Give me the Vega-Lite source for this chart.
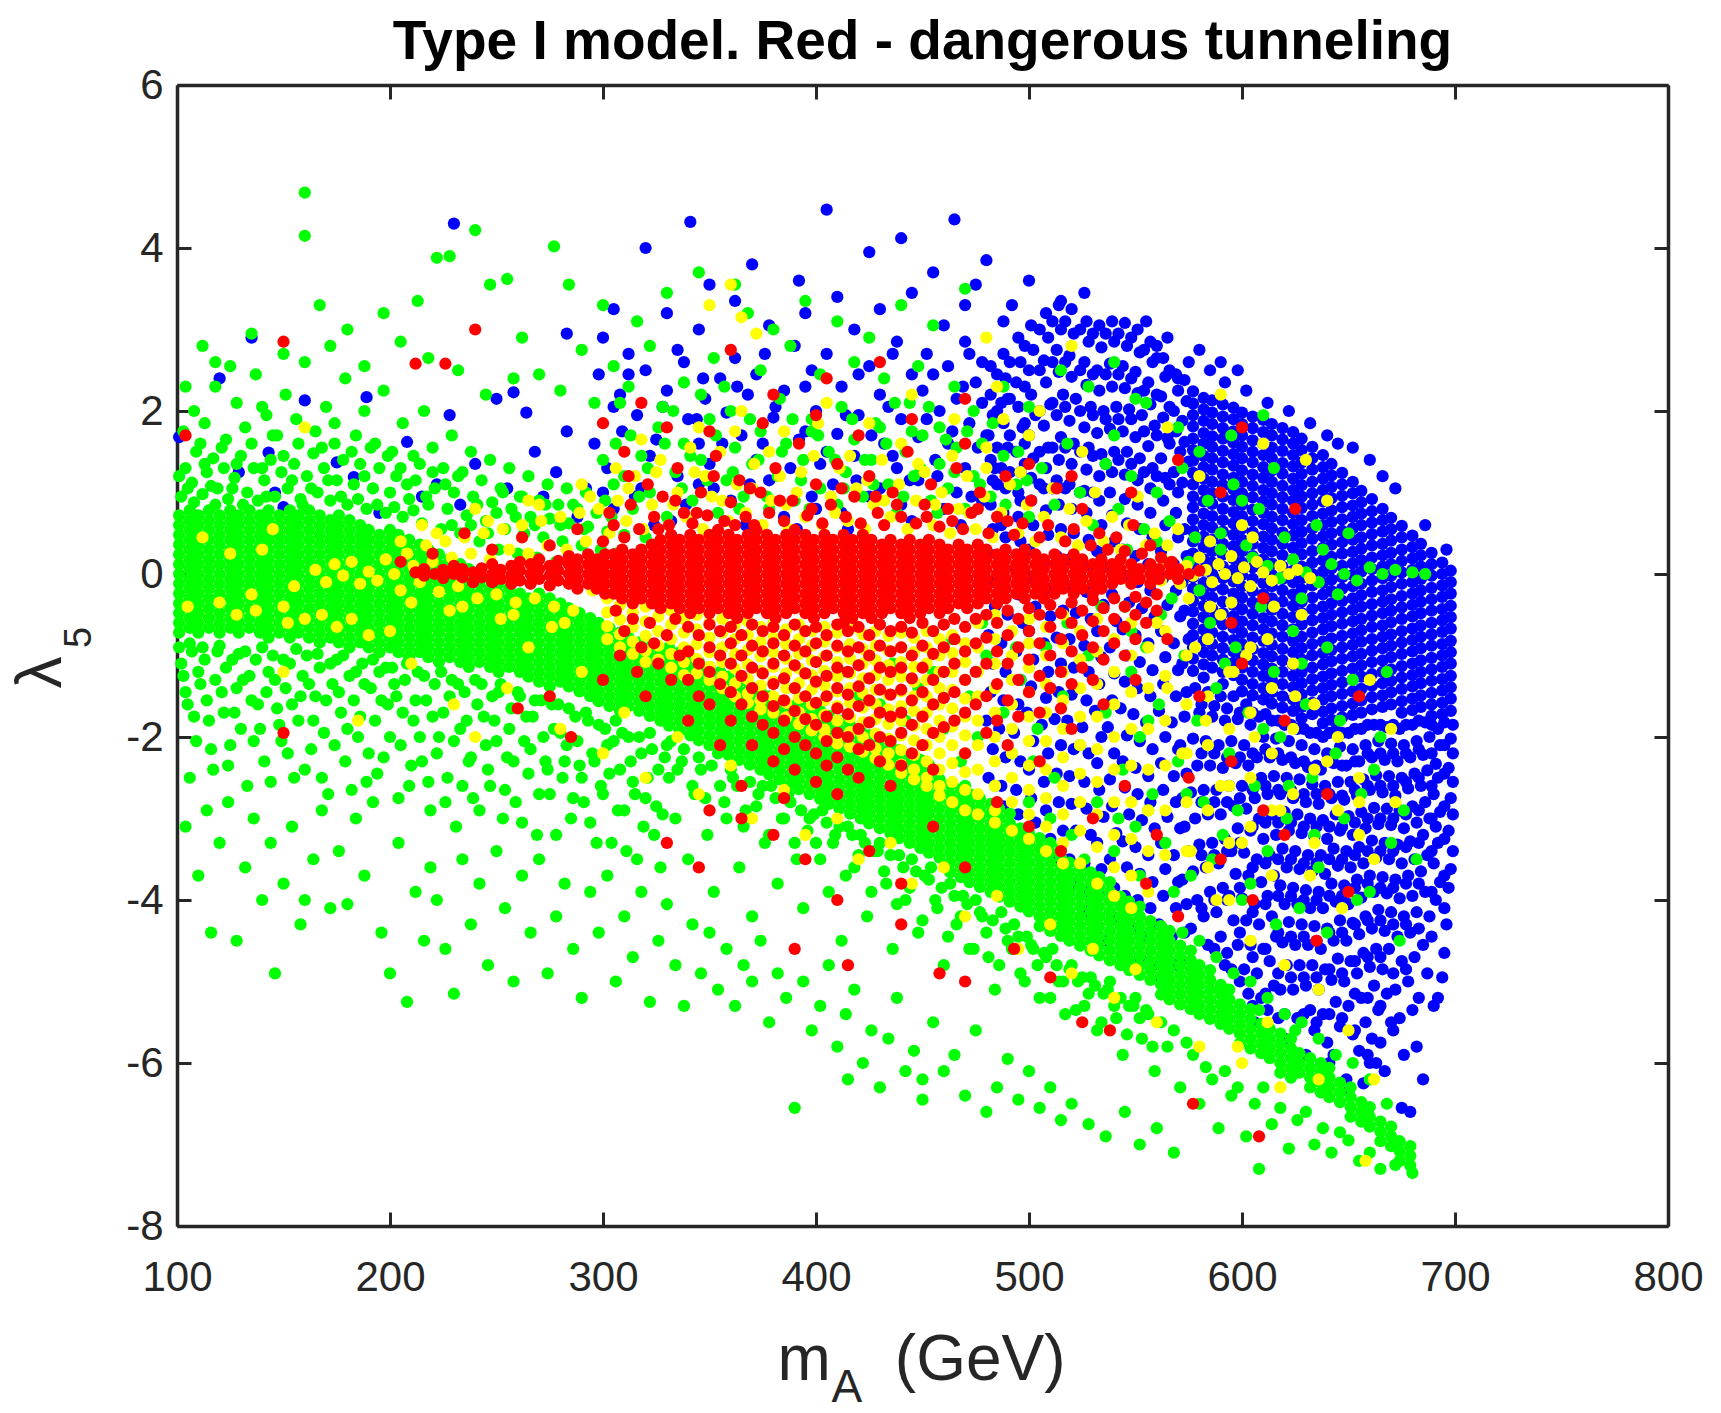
{
  "$schema": "https://vega.github.io/schema/vega-lite/v6.json",
  "width": 1491,
  "height": 1141,
  "autosize": {"type": "none"},
  "padding": {"left": 177, "top": 85, "right": 53, "bottom": 187},
  "background": "white",
  "config": {"view": {"stroke": null}, "font": "Liberation Sans"},
  "title": {
    "text": "Type I model. Red - dangerous tunneling",
    "anchor": "middle",
    "frame": "group",
    "offset": 20,
    "dy": 70,
    "baseline": "alphabetic",
    "font": "Liberation Sans",
    "fontSize": 55,
    "fontWeight": "bold",
    "color": "#000000"
  },
  "layer": [
    {
      "data": {
        "values": "x,y\n577,2.24\n577,2.09\n577,1.95\n577,1.81\n577,1.66\n577,1.52\n577,1.39\n577,1.24\n577,1.1\n577,.95\n577,.82\n577,.67\n577,.53\n577,.4\n577,.25\n577,.11\n577,-.04\n577,-.18\n577,-.33\n577,-.46\n577,-.61\n577,-.75\n577,-.9\n577,-1.04\n577,-1.19\n582,2.16\n582,2.02\n582,1.88\n582,1.73\n582,1.6\n582,1.45\n582,1.31\n582,1.17\n582,1.03\n582,.89\n582,.74\n582,.6\n582,.46\n582,.33\n582,.18\n582,.04\n582,-.11\n582,-.25\n582,-.39\n582,-.53\n582,-.68\n582,-.82\n582,-.96\n582,-1.11\n582,-1.27\n586,2.13\n586,1.98\n586,1.84\n586,1.69\n586,1.56\n586,1.42\n586,1.28\n586,1.13\n586,.99\n586,.86\n586,.71\n586,.57\n586,.42\n586,.28\n586,.14\n586,0\n586,-.15\n586,-.29\n586,-.43\n586,-.57\n586,-.72\n586,-.86\n586,-1\n586,-1.15\n591,2.08\n591,1.93\n591,1.79\n591,1.66\n591,1.51\n591,1.37\n591,1.22\n591,1.09\n591,.95\n591,.8\n591,.66\n591,.52\n591,.37\n591,.24\n591,.09\n591,-.05\n591,-.19\n591,-.34\n591,-.48\n591,-.62\n591,-.77\n591,-.91\n591,-1.05\n591,-1.2\n591,-1.35\n596,2.04\n596,1.9\n596,1.75\n596,1.61\n596,1.47\n596,1.33\n596,1.18\n596,1.04\n596,.91\n596,.76\n596,.62\n596,.48\n596,.34\n596,.19\n596,.05\n596,-.09\n596,-.24\n596,-.38\n596,-.52\n596,-.66\n596,-.81\n596,-.95\n596,-1.09\n596,-1.24\n600,1.98\n600,1.84\n600,1.7\n600,1.56\n600,1.42\n600,1.27\n600,1.13\n600,.99\n600,.85\n600,.71\n600,.56\n600,.42\n600,.28\n600,.14\n600,-.01\n600,-.15\n600,-.29\n600,-.43\n600,-.58\n600,-.72\n600,-.86\n600,-1.01\n600,-1.15\n600,-1.3\n600,-1.44\n605,1.93\n605,1.79\n605,1.64\n605,1.5\n605,1.37\n605,1.22\n605,1.08\n605,.94\n605,.79\n605,.65\n605,.51\n605,.37\n605,.22\n605,.08\n605,-.06\n605,-.21\n605,-.35\n605,-.49\n605,-.63\n605,-.78\n605,-.92\n605,-1.06\n605,-1.2\n605,-1.35\n605,-1.49\n610,1.89\n610,1.74\n610,1.6\n610,1.46\n610,1.31\n610,1.18\n610,1.03\n610,.89\n610,.75\n610,.61\n610,.46\n610,.32\n610,.18\n610,.04\n610,-.11\n610,-.25\n610,-.39\n610,-.54\n610,-.68\n610,-.82\n610,-.97\n610,-1.11\n610,-1.25\n610,-1.4\n610,-1.54\n614,1.84\n614,1.7\n614,1.55\n614,1.42\n614,1.27\n614,1.13\n614,.99\n614,.85\n614,.7\n614,.56\n614,.42\n614,.28\n614,.13\n614,-.01\n614,-.15\n614,-.3\n614,-.44\n614,-.58\n614,-.73\n614,-.87\n614,-1.01\n614,-1.16\n614,-1.3\n614,-1.45\n614,-1.59\n619,1.79\n619,1.65\n619,1.51\n619,1.36\n619,1.23\n619,1.08\n619,.94\n619,.8\n619,.66\n619,.51\n619,.37\n619,.23\n619,.09\n619,-.06\n619,-.2\n619,-.34\n619,-.49\n619,-.63\n619,-.77\n619,-.92\n619,-1.06\n619,-1.2\n619,-1.35\n619,-1.5\n619,-1.64\n624,1.74\n624,1.6\n624,1.46\n624,1.32\n624,1.17\n624,1.03\n624,.9\n624,.75\n624,.61\n624,.47\n624,.32\n624,.18\n624,.04\n624,-.1\n624,-.25\n624,-.39\n624,-.53\n624,-.68\n624,-.82\n624,-.96\n624,-1.11\n624,-1.25\n624,-1.39\n624,-1.54\n624,-1.68\n628,1.66\n628,1.52\n628,1.37\n628,1.23\n628,1.09\n628,.95\n628,.81\n628,.66\n628,.52\n628,.38\n628,.24\n628,.09\n628,-.05\n628,-.19\n628,-.34\n628,-.48\n628,-.62\n628,-.77\n628,-.91\n628,-1.05\n628,-1.2\n628,-1.34\n628,-1.48\n628,-1.63\n628,-1.77\n633,1.56\n633,1.42\n633,1.28\n633,1.13\n633,.99\n633,.85\n633,.71\n633,.56\n633,.43\n633,.28\n633,.14\n633,0\n633,-.14\n633,-.29\n633,-.43\n633,-.57\n633,-.72\n633,-.86\n633,-1\n633,-1.15\n633,-1.29\n633,-1.43\n633,-1.58\n633,-1.72\n638,1.46\n638,1.31\n638,1.17\n638,1.03\n638,.89\n638,.74\n638,.6\n638,.46\n638,.32\n638,.17\n638,.03\n638,-.11\n638,-.25\n638,-.4\n638,-.54\n638,-.68\n638,-.83\n638,-.97\n638,-1.11\n638,-1.26\n638,-1.4\n638,-1.54\n638,-1.69\n638,-1.83\n642,1.35\n642,1.21\n642,1.07\n642,.93\n642,.78\n642,.64\n642,.5\n642,.36\n642,.21\n642,.07\n642,-.07\n642,-.21\n642,-.36\n642,-.5\n642,-.64\n642,-.79\n642,-.93\n642,-1.07\n642,-1.22\n642,-1.36\n642,-1.5\n642,-1.65\n642,-1.79\n647,1.24\n647,1.1\n647,.96\n647,.82\n647,.67\n647,.53\n647,.39\n647,.25\n647,.1\n647,-.04\n647,-.18\n647,-.33\n647,-.47\n647,-.61\n647,-.76\n647,-.9\n647,-1.04\n647,-1.19\n647,-1.33\n647,-1.47\n647,-1.62\n647,-1.76\n652,1.13\n652,.99\n652,.84\n652,.7\n652,.56\n652,.42\n652,.27\n652,.13\n652,-.01\n652,-.15\n652,-.3\n652,-.44\n652,-.58\n652,-.73\n652,-.87\n652,-1.01\n652,-1.16\n652,-1.3\n652,-1.44\n652,-1.59\n652,-1.73\n656,1.02\n656,.88\n656,.74\n656,.6\n656,.45\n656,.31\n656,.17\n656,.03\n656,-.12\n656,-.26\n656,-.4\n656,-.55\n656,-.69\n656,-.83\n656,-.98\n656,-1.12\n656,-1.26\n656,-1.41\n656,-1.55\n656,-1.7\n661,.92\n661,.77\n661,.63\n661,.49\n661,.35\n661,.2\n661,.06\n661,-.08\n661,-.22\n661,-.37\n661,-.51\n661,-.65\n661,-.8\n661,-.94\n661,-1.08\n661,-1.23\n661,-1.37\n661,-1.51\n661,-1.66\n666,.8\n666,.66\n666,.52\n666,.37\n666,.23\n666,.09\n666,-.05\n666,-.2\n666,-.34\n666,-.48\n666,-.63\n666,-.77\n666,-.91\n666,-1.06\n666,-1.2\n666,-1.34\n666,-1.49\n666,-1.63\n670,.69\n670,.55\n670,.41\n670,.26\n670,.12\n670,-.02\n670,-.16\n670,-.31\n670,-.45\n670,-.59\n670,-.74\n670,-.88\n670,-1.02\n670,-1.17\n670,-1.31\n670,-1.45\n670,-1.6\n675,.59\n675,.45\n675,.3\n675,.16\n675,.02\n675,-.12\n675,-.27\n675,-.41\n675,-.55\n675,-.7\n675,-.84\n675,-.98\n675,-1.13\n675,-1.27\n675,-1.41\n675,-1.56\n675,-1.7\n680,.47\n680,.33\n680,.19\n680,.05\n680,-.1\n680,-.24\n680,-.38\n680,-.52\n680,-.67\n680,-.81\n680,-.95\n680,-1.1\n680,-1.24\n680,-1.38\n680,-1.53\n680,-1.67\n684,.37\n684,.23\n684,.09\n684,-.06\n684,-.2\n684,-.34\n684,-.48\n684,-.63\n684,-.77\n684,-.91\n684,-1.06\n684,-1.2\n684,-1.34\n684,-1.49\n684,-1.63\n689,.26\n689,.12\n689,-.02\n689,-.17\n689,-.31\n689,-.45\n689,-.6\n689,-.74\n689,-.88\n689,-1.03\n689,-1.17\n689,-1.31\n689,-1.46\n689,-1.6\n689,-1.74\n694,.14\n694,0\n694,-.14\n694,-.28\n694,-.43\n694,-.57\n694,-.71\n694,-.86\n694,-1\n694,-1.14\n694,-1.29\n694,-1.43\n694,-1.58\n694,-1.72\n698,.04\n698,-.1\n698,-.24\n698,-.39\n698,-.53\n698,-.67\n698,-.82\n698,-.96\n698,-1.1\n698,-1.25\n698,-1.39\n698,-1.53\n698,-1.68\n699,-1.85\n698,-2.02\n699,-2.2\n697,-2.38\n699,-2.55\n698,-2.75\n699,-2.95\n697,-3.15\n699,-3.4\n698,-3.62\n697,-3.85\n696,-4.3\n695,-4.65\n694,-4.95\n692,-5.2\n692,-1.9\n693,-2.1\n691,-2.33\n692,-2.5\n690,-2.7\n693,-2.92\n691,-3.1\n692,-3.3\n690,-3.55\n693,-3.78\n691,-4\n686,-1.82\n688,-2\n685,-2.22\n687,-2.41\n684,-2.6\n686,-2.8\n688,-3\n685,-3.2\n687,-3.45\n684,-3.65\n686,-3.9\n688,-4.2\n685,-4.55\n687,-4.9\n680,-1.85\n682,-2.05\n679,-2.25\n681,-2.45\n678,-2.63\n680,-2.85\n682,-3.05\n679,-3.28\n681,-3.5\n678,-3.7\n680,-3.95\n682,-4.15\n679,-4.4\n681,-4.7\n678,-5\n680,-5.35\n682,-5.8\n679,-6.6\n674,-1.9\n676,-2.1\n673,-2.3\n675,-2.5\n672,-2.72\n674,-2.9\n676,-3.12\n673,-3.32\n675,-3.55\n672,-3.75\n674,-3.98\n676,-4.2\n673,-4.45\n675,-4.75\n672,-5.1\n674,-5.45\n676,-5.9\n668,-1.88\n670,-2.08\n667,-2.28\n669,-2.48\n666,-2.68\n668,-2.88\n670,-3.08\n667,-3.3\n669,-3.5\n666,-3.72\n668,-3.92\n670,-4.15\n667,-4.38\n669,-4.6\n666,-4.85\n668,-5.15\n670,-5.5\n667,-6.1\n662,-1.85\n664,-2.05\n661,-2.25\n663,-2.47\n660,-2.65\n662,-2.87\n664,-3.07\n661,-3.27\n663,-3.48\n660,-3.7\n662,-3.9\n664,-4.12\n661,-4.35\n663,-4.6\n660,-4.82\n662,-5.05\n664,-5.35\n661,-5.7\n663,-6\n656,-1.9\n658,-2.1\n655,-2.3\n657,-2.52\n654,-2.72\n656,-2.92\n658,-3.12\n655,-3.35\n657,-3.55\n654,-3.75\n656,-3.97\n658,-4.2\n655,-4.42\n657,-4.65\n654,-4.9\n656,-5.2\n658,-5.5\n655,-5.85\n657,-6.25\n650,-1.95\n652,-2.15\n649,-2.35\n651,-2.55\n648,-2.77\n650,-2.97\n652,-3.2\n649,-3.4\n651,-3.6\n648,-3.82\n650,-4.05\n652,-4.28\n649,-4.5\n651,-4.75\n648,-5\n650,-5.3\n652,-5.65\n649,-6.2\n644,-1.92\n646,-2.12\n643,-2.32\n645,-2.55\n642,-2.75\n644,-2.95\n646,-3.15\n643,-3.37\n645,-3.58\n642,-3.8\n644,-4.02\n646,-4.25\n643,-4.5\n645,-4.72\n642,-4.98\n644,-5.25\n646,-5.55\n643,-5.9\n638,-2\n640,-2.2\n637,-2.4\n639,-2.6\n636,-2.82\n638,-3.02\n640,-3.25\n637,-3.45\n639,-3.68\n636,-3.9\n638,-4.1\n640,-4.35\n637,-4.6\n639,-4.85\n636,-5.1\n638,-5.4\n640,-5.75\n632,-1.95\n634,-2.15\n631,-2.37\n633,-2.58\n630,-2.8\n632,-3\n634,-3.22\n631,-3.45\n633,-3.65\n630,-3.88\n632,-4.1\n634,-4.32\n631,-4.55\n633,-4.8\n630,-5.05\n632,-5.35\n634,-5.6\n626,-1.9\n628,-2.1\n625,-2.32\n627,-2.52\n624,-2.75\n626,-2.95\n628,-3.18\n625,-3.4\n627,-3.62\n624,-3.85\n626,-4.05\n628,-4.3\n625,-4.55\n627,-4.8\n624,-5.1\n626,-5.45\n620,-1.85\n622,-2.05\n619,-2.28\n621,-2.5\n618,-2.7\n620,-2.92\n622,-3.15\n619,-3.37\n621,-3.6\n618,-3.82\n620,-4.05\n622,-4.27\n619,-4.52\n621,-4.8\n618,-5.1\n620,-5.4\n614,-1.8\n616,-2.02\n613,-2.25\n615,-2.48\n612,-2.7\n614,-2.95\n616,-3.2\n613,-3.45\n615,-3.7\n612,-3.95\n614,-4.2\n616,-4.45\n613,-4.75\n615,-5.05\n612,-5.35\n608,-1.75\n610,-2\n607,-2.25\n609,-2.5\n606,-2.75\n608,-3\n610,-3.25\n607,-3.5\n609,-3.78\n606,-4.05\n608,-4.3\n610,-4.6\n607,-4.9\n609,-5.2\n606,-5.5\n602,-1.6\n604,-1.85\n601,-2.1\n603,-2.35\n600,-2.6\n602,-2.88\n604,-3.15\n601,-3.42\n603,-3.7\n600,-3.98\n602,-4.25\n604,-4.55\n601,-4.85\n603,-5.15\n596,-1.5\n598,-1.78\n595,-2.05\n597,-2.32\n594,-2.6\n596,-2.85\n598,-3.12\n595,-3.4\n597,-3.68\n594,-3.95\n596,-4.25\n598,-4.55\n595,-4.85\n590,-1.5\n592,-1.8\n589,-2.1\n591,-2.38\n588,-2.65\n590,-2.95\n592,-3.25\n589,-3.55\n591,-3.85\n588,-4.15\n590,-4.45\n592,-4.8\n584,-1.45\n586,-1.75\n583,-2.05\n585,-2.35\n582,-2.65\n584,-2.95\n586,-3.3\n583,-3.6\n585,-3.9\n582,-4.2\n584,-4.55\n578,-1.4\n580,-1.7\n577,-2.02\n579,-2.35\n576,-2.68\n578,-3\n580,-3.32\n577,-3.65\n579,-4\n576,-4.35\n581,-1.6\n581,-2.2\n581,-2.8\n581,-3.45\n581,-4.1\n587,-1.62\n587,-2.2\n587,-2.8\n587,-3.45\n587,-4\n587,-4.6\n593,-1.65\n593,-2.25\n593,-2.8\n593,-3.4\n593,-4\n593,-4.65\n599,-1.7\n599,-2.25\n599,-2.75\n599,-3.3\n599,-3.85\n599,-4.4\n599,-5\n605,-1.7\n605,-2.2\n605,-2.65\n605,-3.1\n605,-3.6\n605,-4.15\n605,-4.7\n605,-5.3\n611,-1.72\n611,-2.15\n611,-2.6\n611,-3.05\n611,-3.55\n611,-4.05\n611,-4.6\n611,-5.15\n617,-1.8\n617,-2.2\n617,-2.65\n617,-3.05\n617,-3.5\n617,-3.95\n617,-4.4\n617,-4.9\n617,-5.45\n623,-1.85\n623,-2.25\n623,-2.65\n623,-3.05\n623,-3.5\n623,-3.95\n623,-4.45\n623,-4.95\n629,-1.9\n629,-2.3\n629,-2.7\n629,-3.1\n629,-3.55\n629,-4\n629,-4.45\n629,-4.95\n629,-5.4\n635,-1.95\n635,-2.35\n635,-2.7\n635,-3.1\n635,-3.55\n635,-4\n635,-4.5\n635,-4.95\n635,-5.5\n641,-1.95\n641,-2.3\n641,-2.7\n641,-3.1\n641,-3.5\n641,-3.95\n641,-4.4\n641,-4.85\n641,-5.4\n641,-6\n647,-1.95\n647,-2.35\n647,-2.72\n647,-3.1\n647,-3.5\n647,-3.95\n647,-4.4\n647,-4.9\n647,-5.45\n653,-1.9\n653,-2.3\n653,-2.65\n653,-3.05\n653,-3.45\n653,-3.85\n653,-4.3\n653,-4.75\n653,-5.15\n653,-5.6\n659,-1.85\n659,-2.2\n659,-2.6\n659,-3\n659,-3.4\n659,-3.8\n659,-4.25\n659,-4.7\n659,-5.2\n659,-5.9\n665,-1.85\n665,-2.2\n665,-2.6\n665,-3\n665,-3.4\n665,-3.85\n665,-4.25\n665,-4.7\n665,-5.3\n671,-1.85\n671,-2.2\n671,-2.6\n671,-3\n671,-3.4\n671,-3.85\n671,-4.3\n671,-4.9\n671,-5.6\n677,-1.85\n677,-2.2\n677,-2.55\n677,-2.95\n677,-3.35\n677,-3.8\n677,-4.3\n677,-4.85\n683,-1.8\n683,-2.15\n683,-2.5\n683,-2.9\n683,-3.3\n683,-3.8\n683,-4.35\n683,-5.2\n689,-1.85\n689,-2.2\n689,-2.6\n689,-3\n689,-3.4\n689,-3.9\n689,-4.45\n695,-1.82\n695,-2.1\n695,-2.45\n695,-2.85\n695,-3.25\n695,-3.7\n695,-4.1\n482,2.55\n482,2.2\n483,1.95\n481,1.7\n482,1.4\n483,1.15\n488,2.7\n489,2.4\n487,2.1\n488,1.85\n490,1.55\n487,1.3\n489,1.05\n495,2.9\n496,2.6\n494,2.35\n495,2.05\n497,1.8\n494,1.5\n496,1.25\n495,1\n501,3.05\n502,2.75\n500,2.5\n501,2.2\n503,1.95\n500,1.7\n502,1.42\n501,1.18\n508,3.2\n509,2.9\n507,2.62\n508,2.35\n510,2.08\n507,1.82\n509,1.55\n508,1.3\n507,1.05\n514,3.3\n515,3\n513,2.75\n514,2.48\n516,2.2\n513,1.95\n515,1.68\n514,1.4\n513,1.15\n520,3.25\n521,2.95\n519,2.68\n520,2.42\n522,2.15\n519,1.88\n521,1.6\n520,1.35\n519,1.1\n527,3.1\n528,2.85\n526,2.6\n527,2.32\n529,2.05\n526,1.8\n528,1.55\n527,1.28\n526,1.02\n533,3.05\n534,2.78\n532,2.5\n533,2.25\n535,2\n532,1.73\n534,1.47\n533,1.2\n539,3.1\n540,2.85\n538,2.58\n539,2.3\n541,2.05\n538,1.78\n540,1.5\n539,1.25\n538,1\n545,3.08\n546,2.8\n544,2.55\n545,2.28\n547,2.02\n544,1.75\n546,1.5\n545,1.22\n551,3\n552,2.72\n550,2.48\n551,2.22\n553,1.95\n550,1.68\n552,1.42\n551,1.15\n557,2.85\n558,2.6\n556,2.35\n557,2.08\n559,1.82\n556,1.57\n558,1.3\n557,1.05\n563,2.65\n564,2.42\n562,2.18\n563,1.92\n565,1.67\n562,1.42\n564,1.18\n569,2.45\n570,2.25\n568,2\n569,1.75\n571,1.5\n568,1.25\n570,1\n573,2.38\n574,2.12\n572,1.88\n573,1.62\n575,1.38\n572,1.12\n485,2.45\n485,2\n485,1.55\n485,1.1\n491,2.6\n491,2.15\n491,1.7\n491,1.25\n498,2.8\n498,2.3\n498,1.85\n498,1.35\n505,3\n505,2.5\n505,2\n505,1.5\n505,1.1\n511,3.1\n511,2.6\n511,2.1\n511,1.55\n511,1.05\n517,3.1\n517,2.6\n517,2.05\n517,1.55\n517,1.05\n524,3\n524,2.5\n524,2\n524,1.5\n524,1\n530,2.95\n530,2.45\n530,1.95\n530,1.45\n530,1\n536,2.95\n536,2.45\n536,1.9\n536,1.35\n542,2.95\n542,2.45\n542,1.9\n542,1.4\n548,2.9\n548,2.4\n548,1.9\n548,1.35\n554,2.75\n554,2.25\n554,1.75\n554,1.25\n560,2.65\n560,2.2\n560,1.7\n560,1.2\n566,2.5\n566,2.05\n566,1.6\n566,1.1\n482,.85\n483,.55\n481,.25\n482,-.1\n484,-.4\n481,-.75\n483,-1.1\n482,-1.45\n480,-1.8\n483,-2.15\n481,-2.5\n488,.75\n489,.45\n487,.15\n488,-.2\n490,-.5\n487,-.85\n489,-1.2\n488,-1.55\n486,-1.9\n489,-2.25\n487,-2.6\n488,-2.85\n495,.7\n496,.4\n494,.08\n495,-.25\n497,-.6\n494,-.95\n496,-1.3\n495,-1.6\n493,-1.95\n496,-2.3\n494,-2.65\n495,-2.95\n501,.9\n502,.6\n500,.3\n501,-.05\n503,-.4\n500,-.7\n502,-1.05\n501,-1.38\n499,-1.7\n502,-2.05\n500,-2.4\n501,-2.75\n503,-3.05\n508,.78\n509,.48\n507,.15\n508,-.18\n510,-.52\n507,-.85\n509,-1.2\n508,-1.52\n506,-1.85\n509,-2.2\n507,-2.55\n508,-2.9\n510,-3.25\n514,.85\n515,.55\n513,.22\n514,-.1\n516,-.45\n513,-.78\n515,-1.1\n514,-1.45\n512,-1.78\n515,-2.1\n513,-2.45\n514,-2.8\n516,-3.15\n513,-3.5\n520,.8\n521,.5\n519,.18\n520,-.15\n522,-.48\n519,-.8\n521,-1.15\n520,-1.48\n518,-1.8\n521,-2.15\n519,-2.48\n520,-2.82\n522,-3.15\n519,-3.5\n521,-3.8\n527,.75\n528,.42\n526,.1\n527,-.22\n529,-.55\n526,-.88\n528,-1.2\n527,-1.55\n525,-1.88\n528,-2.2\n526,-2.55\n527,-2.88\n529,-3.2\n526,-3.55\n528,-3.9\n527,-4.15\n533,.9\n534,.6\n532,.28\n533,-.05\n535,-.38\n532,-.7\n534,-1.02\n533,-1.35\n531,-1.68\n534,-2\n532,-2.32\n533,-2.65\n535,-2.98\n532,-3.3\n534,-3.62\n533,-3.95\n531,-4.3\n539,.72\n540,.4\n538,.08\n539,-.25\n541,-.58\n538,-.9\n540,-1.22\n539,-1.55\n537,-1.88\n540,-2.2\n538,-2.52\n539,-2.85\n541,-3.18\n538,-3.5\n540,-3.85\n539,-4.2\n537,-4.5\n545,.92\n546,.62\n544,.3\n545,-.02\n547,-.35\n544,-.68\n546,-1\n545,-1.32\n543,-1.65\n546,-1.98\n544,-2.3\n545,-2.62\n547,-2.95\n544,-3.28\n546,-3.6\n545,-3.95\n543,-4.3\n546,-4.65\n551,.85\n552,.55\n550,.22\n551,-.1\n553,-.42\n550,-.75\n552,-1.08\n551,-1.4\n549,-1.72\n552,-2.05\n550,-2.38\n551,-2.7\n553,-3.02\n550,-3.35\n552,-3.68\n551,-4\n549,-4.35\n552,-4.7\n557,.75\n558,.45\n556,.12\n557,-.2\n559,-.52\n556,-.85\n558,-1.18\n557,-1.5\n555,-1.82\n558,-2.15\n556,-2.48\n557,-2.8\n559,-3.12\n556,-3.45\n558,-3.78\n557,-4.1\n555,-4.45\n558,-4.8\n563,.9\n564,.6\n562,.28\n563,-.05\n565,-.38\n562,-.7\n564,-1.02\n563,-1.35\n561,-1.68\n564,-2\n562,-2.32\n563,-2.65\n565,-2.98\n562,-3.3\n564,-3.62\n563,-3.95\n561,-4.3\n564,-4.65\n562,-4.95\n569,.75\n570,.45\n568,.12\n569,-.2\n571,-.52\n568,-.85\n570,-1.18\n569,-1.5\n567,-1.82\n570,-2.15\n568,-2.48\n569,-2.8\n571,-3.12\n568,-3.45\n570,-3.78\n569,-4.1\n567,-4.45\n570,-4.8\n573,.55\n574,.22\n572,-.1\n573,-.45\n575,-.8\n572,-1.1\n574,-1.45\n573,-1.75\n571,-2.1\n574,-2.45\n572,-2.75\n573,-3.1\n575,-3.4\n572,-3.75\n574,-4.05\n573,-4.4\n571,-4.75\n565,2.9\n575,2.6\n585,2.5\n592,2.35\n602,2.25\n612,2.1\n622,2\n580,2.75\n598,2.5\n555,3.1\n560,2.8\n570,2.4\n590,2.6\n632,1.85\n645,1.6\n660,1.4\n672,1.05\n686,.6\n696,.3\n652,1.55\n666,1.2\n640,1.7\n230,4.3\n341,4.32\n405,4.47\n465,4.35\n440,4.12\n320,4\n370,3.8\n480,3.85\n425,3.95\n455,3.7\n392,3.6\n350,3.55\n475,3.55\n500,3.6\n526,3.45\n515,3.35\n445,3.45\n410,3.4\n362,3.35\n330,3.2\n305,3.25\n395,3.2\n430,3.25\n470,3.3\n492,3.3\n283,2.95\n300,2.9\n345,3\n378,3.05\n418,3\n460,3.05\n488,3.1\n312,2.7\n335,2.75\n362,2.65\n390,2.8\n405,2.7\n438,2.85\n452,2.7\n470,2.85\n478,2.6\n298,2.45\n320,2.5\n355,2.4\n372,2.45\n398,2.5\n425,2.55\n445,2.45\n462,2.55\n475,2.35\n308,2.2\n330,2.25\n348,2.15\n368,2.2\n385,2.25\n412,2.3\n430,2.2\n450,2.25\n466,2.15\n478,2.1\n316,1.95\n340,1.9\n358,1.98\n380,1.92\n400,2\n420,1.95\n440,1.9\n458,2\n472,1.85\n325,1.65\n345,1.6\n365,1.7\n392,1.65\n410,1.72\n432,1.6\n448,1.68\n462,1.6\n476,1.55\n350,1.35\n372,1.4\n402,1.35\n418,1.45\n438,1.3\n456,1.4\n470,1.3\n408,1.1\n430,1.05\n448,1.15\n466,1\n478,.9\n440,.85\n460,.8\n305,.8\n318,1.05\n332,.65\n345,1.1\n360,.9\n378,1.15\n385,.7\n398,.95\n412,.75\n425,.95\n302,1.3\n309,1.75\n315,.95\n322,1.45\n328,2.05\n335,1.2\n339,.85\n344,1.9\n352,1.05\n356,1.6\n363,2.3\n369,1.1\n375,1.6\n381,2.05\n388,1.3\n395,1.75\n400,.8\n405,1.5\n414,1.95\n419,1.15\n426,1.7\n434,2.05\n436,1.45\n444,1.15\n452,1.9\n457,1.2\n464,1.75\n469,2.3\n473,.95\n480,1.7\n484,1.3\n490,2.15\n496,.9\n498,1.6\n305,2.05\n312,2.45\n338,2.6\n347,2.4\n376,2.7\n395,2.3\n420,2.45\n436,2.7\n455,2.45\n472,2.7\n300,1\n324,.6\n367,.6\n391,.55\n415,.55\n445,.65\n468,.6\n487,.6\n101,1.68\n129,1.25\n143,1.49\n146,1\n150,.82\n160,2.13\n175,1.37\n183,1.19\n189,2.17\n195,.75\n208,1.62\n215,.95\n222,1.1\n228,1.95\n233,.85\n240,1.35\n250,2.15\n255,1.05\n258,2.23\n264,1.98\n268,1.5\n272,.95\n278,1.25\n283,1.75\n288,.7\n292,1.05\n296,1.6\n135,2.9\n120,2.4\n640,-6.2\n660,-6\n675,-6.55\n690,-5.3\n630,-5.9\n620,-5.7\n650,-6.35\n685,-6.2\n665,-5.75",
        "format": {"type": "csv", "parse": {"x": "number", "y": "number"}}
      },
      "mark": {"type": "point", "filled": true, "size": 150, "opacity": 1, "color": "#0000ff", "strokeWidth": 0},
      "encoding": {
        "x": {
          "field": "x",
          "type": "quantitative",
          "scale": {"domain": [100, 800], "nice": false, "zero": false},
          "axis": {
            "orient": "bottom",
            "values": [100, 200, 300, 400, 500, 600, 700, 800],
            "labelExpr": "'' + datum.value",
            "grid": false,
            "domainColor": "#262626",
            "domainWidth": 3.5,
            "tickColor": "#262626",
            "tickWidth": 3,
            "tickSize": -14,
            "labelFont": "Liberation Sans",
            "labelFontSize": 42,
            "labelColor": "#262626",
            "labelPadding": 45,
            "labelFlush": false,
            "labelOverlap": false,
            "title": "m\u2003(GeV)",
            "titleFont": "Liberation Sans",
            "titleFontSize": 64,
            "titleFontWeight": "normal",
            "titleColor": "#262626",
            "titleAlign": "left",
            "titleBaseline": "alphabetic",
            "titleX": 600,
            "titleY": 153
          }
        },
        "y": {
          "field": "y",
          "type": "quantitative",
          "scale": {"domain": [-8, 6], "nice": false, "zero": false},
          "axis": {
            "orient": "left",
            "values": [-8, -6, -4, -2, 0, 2, 4, 6],
            "labelExpr": "'' + datum.value",
            "grid": false,
            "domainColor": "#262626",
            "domainWidth": 3.5,
            "tickColor": "#262626",
            "tickWidth": 3,
            "tickSize": -14,
            "labelFont": "Liberation Sans",
            "labelFontSize": 42,
            "labelColor": "#262626",
            "labelPadding": 28,
            "labelFlush": false,
            "labelOverlap": false,
            "title": "λ",
            "titleFont": "Liberation Sans",
            "titleFontSize": 64,
            "titleFontWeight": "normal",
            "titleColor": "#262626",
            "titleAngle": 270,
            "titleAlign": "center",
            "titleBaseline": "alphabetic",
            "titleX": -117,
            "titleY": 587
          }
        }
      }
    },
    {
      "data": {
        "values": "x,y\n101,.72\n101,.6\n101,.48\n101,.36\n101,.24\n101,.12\n101,0\n101,-.12\n101,-.24\n101,-.36\n101,-.48\n101,-.6\n101,-.72\n106,.78\n106,.66\n106,.54\n106,.42\n106,.3\n106,.18\n106,.06\n106,-.06\n106,-.18\n106,-.3\n106,-.42\n106,-.54\n106,-.66\n110,.72\n110,.6\n110,.48\n110,.36\n110,.24\n110,.12\n110,0\n110,-.12\n110,-.24\n110,-.36\n110,-.48\n110,-.6\n110,-.72\n115,.78\n115,.66\n115,.54\n115,.42\n115,.3\n115,.18\n115,.06\n115,-.06\n115,-.18\n115,-.3\n115,-.42\n115,-.54\n115,-.66\n120,.72\n120,.6\n120,.48\n120,.36\n120,.24\n120,.12\n120,0\n120,-.12\n120,-.24\n120,-.36\n120,-.48\n120,-.6\n120,-.72\n125,.78\n125,.66\n125,.54\n125,.42\n125,.3\n125,.18\n125,.06\n125,-.06\n125,-.18\n125,-.3\n125,-.42\n125,-.54\n125,-.66\n129,.72\n129,.6\n129,.48\n129,.36\n129,.24\n129,.12\n129,0\n129,-.12\n129,-.24\n129,-.36\n129,-.48\n129,-.6\n129,-.72\n134,.78\n134,.66\n134,.54\n134,.42\n134,.3\n134,.18\n134,.06\n134,-.06\n134,-.18\n134,-.3\n134,-.42\n134,-.54\n134,-.66\n139,.72\n139,.6\n139,.48\n139,.36\n139,.24\n139,.12\n139,0\n139,-.12\n139,-.24\n139,-.36\n139,-.48\n139,-.6\n139,-.72\n143,.78\n143,.66\n143,.54\n143,.42\n143,.3\n143,.18\n143,.06\n143,-.06\n143,-.18\n143,-.3\n143,-.42\n143,-.54\n143,-.66\n143,-.78\n148,.72\n148,.6\n148,.48\n148,.36\n148,.24\n148,.12\n148,0\n148,-.12\n148,-.24\n148,-.36\n148,-.48\n148,-.6\n148,-.72\n153,.78\n153,.66\n153,.54\n153,.42\n153,.3\n153,.18\n153,.06\n153,-.06\n153,-.18\n153,-.3\n153,-.42\n153,-.54\n153,-.66\n153,-.78\n157,.72\n157,.6\n157,.48\n157,.36\n157,.24\n157,.12\n157,0\n157,-.12\n157,-.24\n157,-.36\n157,-.48\n157,-.6\n157,-.72\n162,.78\n162,.66\n162,.54\n162,.42\n162,.3\n162,.18\n162,.06\n162,-.06\n162,-.18\n162,-.3\n162,-.42\n162,-.54\n162,-.66\n162,-.78\n167,.72\n167,.6\n167,.48\n167,.36\n167,.24\n167,.12\n167,0\n167,-.12\n167,-.24\n167,-.36\n167,-.48\n167,-.6\n167,-.72\n167,-.84\n172,.66\n172,.54\n172,.42\n172,.3\n172,.18\n172,.06\n172,-.06\n172,-.18\n172,-.3\n172,-.42\n172,-.54\n172,-.66\n172,-.78\n176,.72\n176,.6\n176,.48\n176,.36\n176,.24\n176,.12\n176,0\n176,-.12\n176,-.24\n176,-.36\n176,-.48\n176,-.6\n176,-.72\n176,-.84\n181,.66\n181,.54\n181,.42\n181,.3\n181,.18\n181,.06\n181,-.06\n181,-.18\n181,-.3\n181,-.42\n181,-.54\n181,-.66\n181,-.78\n181,-.9\n186,.6\n186,.48\n186,.36\n186,.24\n186,.12\n186,0\n186,-.12\n186,-.24\n186,-.36\n186,-.48\n186,-.6\n186,-.72\n186,-.84\n190,.54\n190,.42\n190,.3\n190,.18\n190,.06\n190,-.06\n190,-.18\n190,-.3\n190,-.42\n190,-.54\n190,-.66\n190,-.78\n190,-.9\n195,.48\n195,.36\n195,.24\n195,.12\n195,0\n195,-.12\n195,-.24\n195,-.36\n195,-.48\n195,-.6\n195,-.72\n195,-.84\n195,-.96\n200,.54\n200,.42\n200,.3\n200,.18\n200,.06\n200,-.06\n200,-.18\n200,-.3\n200,-.42\n200,-.54\n200,-.66\n200,-.78\n200,-.9\n204,.48\n204,.36\n204,.24\n204,.12\n204,0\n204,-.12\n204,-.24\n204,-.36\n204,-.48\n204,-.6\n204,-.72\n204,-.84\n204,-.96\n209,.42\n209,.3\n209,.18\n209,.06\n209,-.06\n209,-.18\n209,-.3\n209,-.42\n209,-.54\n209,-.66\n209,-.78\n209,-.9\n209,-1.02\n214,.36\n214,.24\n214,.12\n214,0\n214,-.12\n214,-.24\n214,-.36\n214,-.48\n214,-.6\n214,-.72\n214,-.84\n214,-.96\n218,.3\n218,.18\n218,.06\n218,-.06\n218,-.18\n218,-.3\n218,-.42\n218,-.54\n218,-.66\n218,-.78\n218,-.9\n218,-1.02\n223,.24\n223,.12\n223,0\n223,-.12\n223,-.24\n223,-.36\n223,-.48\n223,-.6\n223,-.72\n223,-.84\n223,-.96\n223,-1.08\n228,.18\n228,.06\n228,-.06\n228,-.18\n228,-.3\n228,-.42\n228,-.54\n228,-.66\n228,-.78\n228,-.9\n228,-1.02\n233,.12\n233,0\n233,-.12\n233,-.24\n233,-.36\n233,-.48\n233,-.6\n233,-.72\n233,-.84\n233,-.96\n233,-1.08\n237,.06\n237,-.06\n237,-.18\n237,-.3\n237,-.42\n237,-.54\n237,-.66\n237,-.78\n237,-.9\n237,-1.02\n237,-1.14\n242,0\n242,-.12\n242,-.24\n242,-.36\n242,-.48\n242,-.6\n242,-.72\n242,-.84\n242,-.96\n242,-1.08\n247,-.06\n247,-.18\n247,-.3\n247,-.42\n247,-.54\n247,-.66\n247,-.78\n247,-.9\n247,-1.02\n247,-1.14\n251,-.12\n251,-.24\n251,-.36\n251,-.48\n251,-.6\n251,-.72\n251,-.84\n251,-.96\n251,-1.08\n251,-1.2\n256,-.18\n256,-.3\n256,-.42\n256,-.54\n256,-.66\n256,-.78\n256,-.9\n256,-1.02\n256,-1.14\n261,-.24\n261,-.36\n261,-.48\n261,-.6\n261,-.72\n261,-.84\n261,-.96\n261,-1.08\n261,-1.2\n265,-.3\n265,-.42\n265,-.54\n265,-.66\n265,-.78\n265,-.9\n265,-1.02\n265,-1.14\n265,-1.26\n270,-.24\n270,-.36\n270,-.48\n270,-.6\n270,-.72\n270,-.84\n270,-.96\n270,-1.08\n270,-1.2\n270,-1.32\n275,-.3\n275,-.42\n275,-.54\n275,-.66\n275,-.78\n275,-.9\n275,-1.02\n275,-1.14\n275,-1.26\n275,-1.38\n280,-.36\n280,-.48\n280,-.6\n280,-.72\n280,-.84\n280,-.96\n280,-1.08\n280,-1.2\n280,-1.32\n284,-.42\n284,-.54\n284,-.66\n284,-.78\n284,-.9\n284,-1.02\n284,-1.14\n284,-1.26\n284,-1.38\n289,-.48\n289,-.6\n289,-.72\n289,-.84\n289,-.96\n289,-1.08\n289,-1.2\n289,-1.32\n289,-1.44\n294,-.54\n294,-.66\n294,-.78\n294,-.9\n294,-1.02\n294,-1.14\n294,-1.26\n294,-1.38\n294,-1.5\n298,-.6\n298,-.72\n298,-.84\n298,-.96\n298,-1.08\n298,-1.2\n298,-1.32\n298,-1.44\n298,-1.56\n303,-.66\n303,-.78\n303,-.9\n303,-1.02\n303,-1.14\n303,-1.26\n303,-1.38\n303,-1.5\n303,-1.62\n308,-.72\n308,-.84\n308,-.96\n308,-1.08\n308,-1.2\n308,-1.32\n308,-1.44\n308,-1.56\n308,-1.68\n312,-.78\n312,-.9\n312,-1.02\n312,-1.14\n312,-1.26\n312,-1.38\n312,-1.5\n312,-1.62\n317,-.84\n317,-.96\n317,-1.08\n317,-1.2\n317,-1.32\n317,-1.44\n317,-1.56\n317,-1.68\n322,-.9\n322,-1.02\n322,-1.14\n322,-1.26\n322,-1.38\n322,-1.5\n322,-1.62\n322,-1.74\n327,-.96\n327,-1.08\n327,-1.2\n327,-1.32\n327,-1.44\n327,-1.56\n327,-1.68\n327,-1.8\n331,-.9\n331,-1.02\n331,-1.14\n331,-1.26\n331,-1.38\n331,-1.5\n331,-1.62\n331,-1.74\n331,-1.86\n336,-.96\n336,-1.08\n336,-1.2\n336,-1.32\n336,-1.44\n336,-1.56\n336,-1.68\n336,-1.8\n336,-1.92\n341,-1.02\n341,-1.14\n341,-1.26\n341,-1.38\n341,-1.5\n341,-1.62\n341,-1.74\n341,-1.86\n341,-1.98\n345,-1.08\n345,-1.2\n345,-1.32\n345,-1.44\n345,-1.56\n345,-1.68\n345,-1.8\n345,-1.92\n345,-2.04\n350,-1.14\n350,-1.26\n350,-1.38\n350,-1.5\n350,-1.62\n350,-1.74\n350,-1.86\n350,-1.98\n350,-2.1\n355,-1.2\n355,-1.32\n355,-1.44\n355,-1.56\n355,-1.68\n355,-1.8\n355,-1.92\n355,-2.04\n355,-2.16\n359,-1.26\n359,-1.38\n359,-1.5\n359,-1.62\n359,-1.74\n359,-1.86\n359,-1.98\n359,-2.1\n359,-2.22\n364,-1.32\n364,-1.44\n364,-1.56\n364,-1.68\n364,-1.8\n364,-1.92\n364,-2.04\n364,-2.16\n364,-2.28\n369,-1.38\n369,-1.5\n369,-1.62\n369,-1.74\n369,-1.86\n369,-1.98\n369,-2.1\n369,-2.22\n369,-2.34\n374,-1.44\n374,-1.56\n374,-1.68\n374,-1.8\n374,-1.92\n374,-2.04\n374,-2.16\n374,-2.28\n374,-2.4\n378,-1.5\n378,-1.62\n378,-1.74\n378,-1.86\n378,-1.98\n378,-2.1\n378,-2.22\n378,-2.34\n378,-2.46\n383,-1.56\n383,-1.68\n383,-1.8\n383,-1.92\n383,-2.04\n383,-2.16\n383,-2.28\n383,-2.4\n383,-2.52\n388,-1.62\n388,-1.74\n388,-1.86\n388,-1.98\n388,-2.1\n388,-2.22\n388,-2.34\n388,-2.46\n388,-2.58\n392,-1.56\n392,-1.68\n392,-1.8\n392,-1.92\n392,-2.04\n392,-2.16\n392,-2.28\n392,-2.4\n392,-2.52\n392,-2.64\n397,-1.62\n397,-1.74\n397,-1.86\n397,-1.98\n397,-2.1\n397,-2.22\n397,-2.34\n397,-2.46\n397,-2.58\n397,-2.7\n402,-1.68\n402,-1.8\n402,-1.92\n402,-2.04\n402,-2.16\n402,-2.28\n402,-2.4\n402,-2.52\n402,-2.64\n402,-2.76\n406,-1.74\n406,-1.86\n406,-1.98\n406,-2.1\n406,-2.22\n406,-2.34\n406,-2.46\n406,-2.58\n406,-2.7\n406,-2.82\n411,-1.8\n411,-1.92\n411,-2.04\n411,-2.16\n411,-2.28\n411,-2.4\n411,-2.52\n411,-2.64\n411,-2.76\n411,-2.88\n416,-1.86\n416,-1.98\n416,-2.1\n416,-2.22\n416,-2.34\n416,-2.46\n416,-2.58\n416,-2.7\n416,-2.82\n416,-2.94\n421,-1.92\n421,-2.04\n421,-2.16\n421,-2.28\n421,-2.4\n421,-2.52\n421,-2.64\n421,-2.76\n421,-2.88\n421,-3\n425,-1.98\n425,-2.1\n425,-2.22\n425,-2.34\n425,-2.46\n425,-2.58\n425,-2.7\n425,-2.82\n425,-2.94\n425,-3.06\n430,-2.04\n430,-2.16\n430,-2.28\n430,-2.4\n430,-2.52\n430,-2.64\n430,-2.76\n430,-2.88\n430,-3\n430,-3.12\n435,-2.1\n435,-2.22\n435,-2.34\n435,-2.46\n435,-2.58\n435,-2.7\n435,-2.82\n435,-2.94\n435,-3.06\n435,-3.18\n439,-2.16\n439,-2.28\n439,-2.4\n439,-2.52\n439,-2.64\n439,-2.76\n439,-2.88\n439,-3\n439,-3.12\n439,-3.24\n444,-2.22\n444,-2.34\n444,-2.46\n444,-2.58\n444,-2.7\n444,-2.82\n444,-2.94\n444,-3.06\n444,-3.18\n444,-3.3\n449,-2.28\n449,-2.4\n449,-2.52\n449,-2.64\n449,-2.76\n449,-2.88\n449,-3\n449,-3.12\n449,-3.24\n449,-3.36\n453,-2.34\n453,-2.46\n453,-2.58\n453,-2.7\n453,-2.82\n453,-2.94\n453,-3.06\n453,-3.18\n453,-3.3\n453,-3.42\n458,-2.52\n458,-2.64\n458,-2.76\n458,-2.88\n458,-3\n458,-3.12\n458,-3.24\n458,-3.36\n458,-3.48\n463,-2.58\n463,-2.7\n463,-2.82\n463,-2.94\n463,-3.06\n463,-3.18\n463,-3.3\n463,-3.42\n463,-3.54\n463,-3.66\n468,-2.64\n468,-2.76\n468,-2.88\n468,-3\n468,-3.12\n468,-3.24\n468,-3.36\n468,-3.48\n468,-3.6\n468,-3.72\n472,-2.7\n472,-2.82\n472,-2.94\n472,-3.06\n472,-3.18\n472,-3.3\n472,-3.42\n472,-3.54\n472,-3.66\n472,-3.78\n477,-2.76\n477,-2.88\n477,-3\n477,-3.12\n477,-3.24\n477,-3.36\n477,-3.48\n477,-3.6\n477,-3.72\n477,-3.84\n482,-2.82\n482,-2.94\n482,-3.06\n482,-3.18\n482,-3.3\n482,-3.42\n482,-3.54\n482,-3.66\n482,-3.78\n482,-3.9\n486,-2.88\n486,-3\n486,-3.12\n486,-3.24\n486,-3.36\n486,-3.48\n486,-3.6\n486,-3.72\n486,-3.84\n486,-3.96\n491,-2.94\n491,-3.06\n491,-3.18\n491,-3.3\n491,-3.42\n491,-3.54\n491,-3.66\n491,-3.78\n491,-3.9\n491,-4.02\n496,-3.12\n496,-3.24\n496,-3.36\n496,-3.48\n496,-3.6\n496,-3.72\n496,-3.84\n496,-3.96\n496,-4.08\n500,-3.18\n500,-3.3\n500,-3.42\n500,-3.54\n500,-3.66\n500,-3.78\n500,-3.9\n500,-4.02\n500,-4.14\n505,-3.24\n505,-3.36\n505,-3.48\n505,-3.6\n505,-3.72\n505,-3.84\n505,-3.96\n505,-4.08\n505,-4.2\n505,-4.32\n510,-3.3\n510,-3.42\n510,-3.54\n510,-3.66\n510,-3.78\n510,-3.9\n510,-4.02\n510,-4.14\n510,-4.26\n510,-4.38\n515,-3.36\n515,-3.48\n515,-3.6\n515,-3.72\n515,-3.84\n515,-3.96\n515,-4.08\n515,-4.2\n515,-4.32\n515,-4.44\n519,-3.54\n519,-3.66\n519,-3.78\n519,-3.9\n519,-4.02\n519,-4.14\n519,-4.26\n519,-4.38\n519,-4.5\n524,-3.6\n524,-3.72\n524,-3.84\n524,-3.96\n524,-4.08\n524,-4.2\n524,-4.32\n524,-4.44\n524,-4.56\n529,-3.66\n529,-3.78\n529,-3.9\n529,-4.02\n529,-4.14\n529,-4.26\n529,-4.38\n529,-4.5\n529,-4.62\n533,-3.72\n533,-3.84\n533,-3.96\n533,-4.08\n533,-4.2\n533,-4.32\n533,-4.44\n533,-4.56\n533,-4.68\n538,-3.78\n538,-3.9\n538,-4.02\n538,-4.14\n538,-4.26\n538,-4.38\n538,-4.5\n538,-4.62\n538,-4.74\n543,-3.96\n543,-4.08\n543,-4.2\n543,-4.32\n543,-4.44\n543,-4.56\n543,-4.68\n543,-4.8\n547,-4.02\n547,-4.14\n547,-4.26\n547,-4.38\n547,-4.5\n547,-4.62\n547,-4.74\n547,-4.86\n552,-4.08\n552,-4.2\n552,-4.32\n552,-4.44\n552,-4.56\n552,-4.68\n552,-4.8\n552,-4.92\n557,-4.26\n557,-4.38\n557,-4.5\n557,-4.62\n557,-4.74\n557,-4.86\n557,-4.98\n562,-4.32\n562,-4.44\n562,-4.56\n562,-4.68\n562,-4.8\n562,-4.92\n562,-5.04\n562,-5.16\n566,-4.38\n566,-4.5\n566,-4.62\n566,-4.74\n566,-4.86\n566,-4.98\n566,-5.1\n566,-5.22\n571,-4.56\n571,-4.68\n571,-4.8\n571,-4.92\n571,-5.04\n571,-5.16\n571,-5.28\n576,-4.62\n576,-4.74\n576,-4.86\n576,-4.98\n576,-5.1\n576,-5.22\n576,-5.34\n580,-4.8\n580,-4.92\n580,-5.04\n580,-5.16\n580,-5.28\n580,-5.4\n585,-4.86\n585,-4.98\n585,-5.1\n585,-5.22\n585,-5.34\n585,-5.46\n590,-5.04\n590,-5.16\n590,-5.28\n590,-5.4\n590,-5.52\n594,-5.1\n594,-5.22\n594,-5.34\n594,-5.46\n594,-5.58\n599,-5.28\n599,-5.4\n599,-5.52\n599,-5.64\n599,-5.76\n604,-5.34\n604,-5.46\n604,-5.58\n604,-5.7\n604,-5.82\n609,-5.52\n609,-5.64\n609,-5.76\n609,-5.88\n613,-5.58\n613,-5.7\n613,-5.82\n613,-5.94\n618,-5.64\n618,-5.76\n618,-5.88\n618,-6\n618,-6.12\n623,-5.7\n623,-5.82\n623,-5.94\n623,-6.06\n623,-6.18\n627,-5.88\n627,-6\n627,-6.12\n632,-5.94\n632,-6.06\n632,-6.18\n632,-6.3\n637,-6\n637,-6.12\n637,-6.24\n637,-6.36\n641,-6.06\n641,-6.18\n641,-6.3\n641,-6.42\n646,-6.24\n646,-6.36\n646,-6.48\n651,-6.3\n651,-6.42\n651,-6.54\n651,-6.66\n656,-6.48\n656,-6.6\n656,-6.72\n660,-6.54\n660,-6.66\n660,-6.78\n665,-6.72\n665,-6.84\n665,-6.96\n670,-6.78\n670,-6.9\n670,-7.02\n674,-6.96\n674,-7.08\n674,-7.2\n679,-7.02\n679,-7.14\n679,-7.26\n102,.95\n104,1.3\n107,1.12\n109,1.5\n112,.98\n114,1.25\n117,1.42\n119,1.05\n122,1.3\n124,.92\n127,1.18\n130,1.45\n133,1\n136,1.3\n138,.9\n141,1.15\n144,1.4\n146,.95\n149,1.25\n152,1.05\n155,1.35\n158,.92\n161,1.2\n164,1.48\n166,1\n169,1.3\n172,.9\n175,1.15\n178,1.4\n180,.85\n183,1.1\n186,1.35\n189,.8\n192,1.05\n195,1.3\n198,.75\n200,1\n203,1.2\n206,.7\n209,.92\n212,1.15\n215,.62\n218,.85\n221,1.05\n224,.55\n227,.8\n230,1\n233,.5\n236,.72\n239,.95\n242,.4\n245,.65\n248,.88\n251,.3\n254,.55\n257,.8\n260,.25\n263,.5\n266,.7\n269,.2\n272,.45\n275,.68\n278,.15\n281,.4\n284,.62\n287,.1\n290,.35\n293,.58\n296,.05\n299,.3\n302,.52\n306,.25\n310,.48\n315,.22\n320,.45\n326,.2\n101,1.2\n105,1.05\n108,.88\n111,1.6\n113,1.35\n116,1.08\n118,.85\n121,1.55\n126,1.05\n128,1.35\n131,.85\n135,1.6\n140,1.3\n142,.95\n145,1.7\n150,1.45\n154,1.15\n157,1.6\n159,.85\n163,1.05\n168,1.55\n171,1.15\n174,1.6\n177,.95\n182,1.5\n185,.92\n188,1.2\n191,1.55\n194,.85\n199,1.45\n202,.82\n205,1.3\n208,1.1\n211,.78\n214,1.35\n217,.95\n220,1.25\n226,1.1\n229,.6\n232,1.2\n238,.6\n241,.85\n246,.5\n250,.75\n253,1\n259,.7\n262,.95\n268,.6\n273,.85\n280,.6\n286,.85\n291,.55\n103,1.75\n108,2\n113,1.85\n118,2.3\n123,1.65\n128,2.1\n132,1.8\n137,2.45\n142,1.95\n147,1.7\n151,2.2\n156,1.9\n160,2.6\n165,1.75\n170,2.05\n174,1.85\n179,2.4\n184,1.7\n188,2\n193,1.6\n197,2.25\n201,1.5\n206,1.85\n211,1.45\n216,2\n220,1.55\n225,1.3\n229,1.7\n234,1.25\n238,1.5\n243,1.15\n247,1.4\n252,1.05\n256,1.3\n261,.95\n265,1.2\n270,.9\n274,1.1\n279,.85\n283,1.05\n288,.8\n292,1\n297,.75\n301,.9\n305,1.1\n160,4.68\n160,4.15\n240,4.22\n228,3.9\n167,3.3\n180,3\n197,3.2\n213,3.35\n222,3.88\n255,3.62\n247,3.55\n277,4.02\n284,3.55\n300,3.3\n316,3.1\n330,3.45\n345,3.7\n362,3.55\n368,3.2\n380,3\n395,3.35\n410,3.1\n425,2.9\n440,3.3\n455,3.05\n470,3.5\n135,2.95\n112,2.8\n125,2.55\n150,2.7\n172,2.8\n188,2.55\n205,2.85\n218,2.65\n232,2.5\n262,2.9\n270,2.45\n290,2.75\n305,2.55\n322,2.8\n338,2.35\n352,2.65\n374,2.5\n388,2.8\n402,2.45\n418,2.6\n432,2.4\n448,2.55\n465,2.3\n140,2.05\n118,2.6\n104,2.3\n245,2.2\n258,2.4\n280,2.25\n296,2.1\n312,2.3\n328,2.05\n346,2.2\n360,2\n383,2.15\n398,1.9\n412,2.05\n428,1.85\n444,2.1\n458,1.8\n474,2\n488,2.3\n500,2.05\n515,2.5\n528,2.3\n540,2.6\n550,2.15\n306,1.6\n310,1.2\n314,.8\n318,1.45\n322,1\n326,1.8\n330,.7\n334,1.25\n338,1.6\n342,.9\n346,1.4\n350,1.9\n354,.75\n358,1.15\n362,1.55\n366,.95\n370,1.35\n374,1.75\n378,.8\n382,1.2\n386,1.6\n390,.9\n394,1.4\n398,1.75\n402,1.05\n406,1.5\n410,.85\n414,1.25\n418,1.65\n422,.95\n426,1.4\n430,1.8\n434,1.1\n438,.75\n442,1.5\n446,1.2\n450,1.7\n454,.9\n458,1.35\n462,1.05\n466,1.55\n470,.8\n474,1.2\n478,1.6\n482,.95\n488,1.45\n494,1.1\n500,.7\n506,1.3\n512,.85\n518,1.6\n524,1\n530,.6\n536,1.35\n542,.8\n548,1.2\n554,.55\n560,1\n566,.65\n572,1.3\n578,.45\n584,.9\n590,.5\n596,1.1\n602,.35\n608,.8\n300,1.4\n304,.7\n308,2.1\n313,1.7\n317,.95\n321,1.3\n329,1.6\n333,2\n337,1.05\n341,1.45\n349,1.15\n353,1.7\n357,2.3\n361,1.25\n364,.8\n369,1.9\n373,1.4\n377,.95\n384,1.5\n389,1.9\n393,1.15\n397,.8\n401,1.7\n409,1.4\n413,1.05\n417,1.9\n423,1.4\n427,1.1\n433,1.6\n437,2.1\n441,.95\n445,1.75\n449,1.3\n453,2.05\n457,.75\n461,1.65\n465,1.25\n471,1.75\n477,1.1\n483,1.85\n489,.85\n495,1.5\n499,1.15\n612,.1\n618,-.05\n624,.18\n630,.02\n636,-.1\n642,.12\n648,0\n654,-.08\n660,.08\n666,0\n672,.05\n680,.02\n686,0\n645,-.25\n628,-.3\n638,.3\n545,-.4\n548,-1.2\n552,-2\n555,-.9\n558,-2.7\n561,-1.6\n564,-3.3\n567,-.3\n570,-2.3\n573,-1\n576,-3.7\n579,-1.8\n582,-2.8\n585,-.6\n588,-1.4\n591,-3.2\n594,-2.2\n597,-.9\n600,-4\n603,-1.7\n606,-2.6\n609,-.4\n612,-3.4\n615,-1.2\n618,-2\n621,-3\n624,-.7\n627,-4.1\n630,-1.6\n633,-2.5\n636,-3.6\n640,-.9\n644,-2.2\n648,-3\n652,-1.3\n656,-2.7\n660,-3.9\n665,-2\n670,-3.3\n676,-2.9\n682,-3.5\n550,-3.1\n556,-1.8\n562,-.5\n568,-3.9\n574,-2.7\n580,-.2\n586,-3.5\n592,-1.1\n598,-2.9\n604,-3.8\n610,-1.9\n616,-4.3\n622,-2.6\n628,-1.1\n634,-3.2\n640,-4.4\n646,-1.8\n654,-4\n662,-2.4\n668,-1.2\n674,-4.5\n546,.3\n560,.4\n575,.15\n590,.3\n605,.2\n620,.45\n635,.6\n650,.5\n600,.9\n615,1.3\n580,1.5\n595,1.7\n610,1.95\n570,1.8\n555,2.1\n540,1.7\n455,-1.2\n460,-1.9\n464,-.8\n468,-2.3\n472,-1.5\n476,-2\n480,-1\n484,-2.6\n488,-1.7\n492,-2.2\n496,-1.3\n500,-2.8\n504,-1.9\n508,-.9\n512,-2.5\n516,-1.5\n520,-3.2\n524,-2.1\n528,-1\n532,-2.8\n536,-1.7\n540,-3.4\n544,-2.4\n548,-.7\n552,-3.7\n556,-2.9\n470,-2.6\n478,-.6\n486,-3\n494,-.9\n502,-2.3\n510,-3\n518,-.6\n526,-3.5\n534,-.4\n542,-3\n430,-1.6\n436,-1.1\n442,-1.8\n448,-1.4\n420,-1.5\n412,-1.2\n101,-.9\n103,-1.25\n105,-1.6\n107,-.95\n109,-2.05\n111,-1.35\n113,-1.05\n115,-1.8\n117,-2.4\n119,-.95\n121,-1.45\n123,-1.15\n125,-2.1\n127,-1.7\n129,-.98\n131,-1.3\n133,-2.6\n135,-1.55\n137,-1.05\n139,-1.9\n141,-2.3\n143,-1.2\n145,-1\n147,-1.65\n149,-2.05\n151,-1.4\n153,-1.1\n155,-2.5\n157,-1.8\n159,-1.25\n161,-1\n163,-2.15\n165,-1.5\n167,-1.15\n169,-1.95\n171,-2.7\n173,-1.35\n175,-1.05\n177,-1.7\n179,-2.3\n181,-1.25\n183,-1.55\n185,-2\n187,-1.1\n189,-2.55\n191,-1.4\n193,-1.8\n195,-1.2\n197,-2.25\n199,-1.6\n201,-1.15\n203,-1.5\n205,-2.1\n207,-1.3\n209,-2.6\n211,-1.8\n213,-1.2\n215,-2.3\n217,-1.55\n219,-2.9\n221,-1.35\n223,-2\n225,-1.7\n227,-2.5\n229,-1.3\n231,-3.1\n233,-1.9\n235,-1.45\n237,-2.3\n239,-2.75\n241,-1.6\n243,-1.35\n245,-2.1\n247,-2.6\n249,-1.8\n251,-1.45\n253,-3\n255,-2.25\n257,-1.65\n259,-2.8\n261,-1.5\n263,-2.05\n265,-2.45\n267,-1.75\n269,-3.2\n271,-1.55\n273,-2.3\n275,-2.7\n277,-1.9\n279,-1.6\n281,-2.5\n283,-2.1\n285,-3\n287,-1.75\n289,-2.35\n291,-2.8\n293,-1.8\n295,-2.2\n297,-3.3\n299,-2.6\n301,-1.9\n303,-2.45\n305,-2.05\n307,-2.9\n309,-1.95\n311,-3.4\n313,-2.3\n315,-2.7\n317,-2\n319,-3.1\n321,-2.5\n323,-2.15\n325,-2.85\n327,-3.6\n329,-2.25\n102,-1.1\n104,-1.45\n106,-.85\n108,-1.75\n110,-1.2\n112,-.9\n114,-1.55\n116,-2.15\n118,-1.3\n120,-.88\n122,-1.7\n124,-2.35\n126,-1.05\n128,-1.4\n130,-1.9\n132,-.95\n134,-1.25\n136,-2.05\n138,-1.6\n140,-.9\n142,-1.45\n144,-2.55\n146,-1.3\n148,-1.85\n150,-1.05\n152,-2.2\n154,-1.6\n156,-.92\n158,-1.5\n160,-2.4\n162,-1.35\n164,-1.8\n166,-.98\n168,-2.5\n170,-1.55\n172,-1.1\n174,-2.1\n176,-1.45\n178,-1\n180,-1.9\n182,-2.65\n184,-1.2\n186,-1.75\n188,-1.35\n190,-2.2\n192,-1.05\n194,-2.45\n196,-1.55\n198,-1.15\n200,-2\n202,-1.35\n204,-2.75\n206,-1.7\n208,-1.1\n210,-2.35\n212,-1.55\n214,-2\n216,-1.25\n218,-2.55\n220,-1.75\n222,-2.2\n224,-1.2\n226,-2.8\n228,-1.5\n230,-2.05\n232,-1.35\n234,-2.6\n236,-1.8\n238,-2.25\n240,-1.3\n242,-2.9\n244,-1.75\n246,-2.4\n248,-1.5\n250,-2.05\n252,-1.35\n254,-2.65\n256,-1.9\n258,-2.3\n260,-1.45\n262,-3.05\n264,-1.75\n266,-2.15\n268,-1.55\n270,-2.7\n272,-2\n274,-2.4\n276,-1.6\n278,-3.2\n280,-1.95\n282,-2.3\n284,-1.65\n286,-2.75\n288,-2.05\n290,-2.5\n292,-1.7\n294,-3.05\n296,-2.3\n298,-1.85\n300,-2.7\n302,-2.1\n304,-3.3\n306,-1.8\n308,-2.4\n310,-2.9\n312,-2\n314,-2.55\n316,-3.5\n318,-2.2\n320,-2.75\n322,-1.95\n324,-3.2\n326,-2.4\n328,-2.95\n330,-2.1\n331,-2.5\n334,-3\n337,-2.3\n340,-3.5\n343,-2.7\n346,-2.4\n349,-3.2\n352,-3.9\n355,-2.6\n358,-3\n361,-2.5\n364,-3.6\n367,-2.9\n370,-4.2\n373,-2.7\n376,-3.3\n379,-2.6\n382,-3.8\n385,-3\n388,-2.8\n391,-3.5\n394,-4.1\n397,-3\n400,-3.3\n403,-2.9\n406,-3.9\n409,-3.2\n412,-4.5\n415,-3.1\n418,-3.6\n421,-3.2\n424,-4.2\n427,-3.4\n430,-3.3\n433,-3.8\n436,-4.6\n439,-3.45\n442,-4\n445,-3.5\n448,-4.4\n451,-3.7\n454,-3.6\n457,-4.1\n460,-4.8\n463,-3.8\n466,-4.3\n469,-3.95\n472,-4.6\n475,-4\n478,-4.2\n481,-4.7\n484,-5.1\n487,-4.15\n490,-4.5\n493,-4.3\n496,-4.9\n499,-4.45\n502,-4.6\n505,-5.2\n508,-4.7\n511,-4.6\n514,-5\n517,-5.4\n520,-4.8\n523,-5\n526,-5.3\n529,-4.95\n532,-5.6\n535,-5.15\n538,-5\n541,-5.45\n544,-5.9\n547,-5.3\n550,-5.2\n553,-5.7\n556,-5.4\n559,-6.1\n562,-5.5\n565,-5.8\n568,-5.6\n571,-6.3\n574,-5.75\n577,-5.9\n580,-6.5\n583,-6.05\n586,-6.2\n589,-6.8\n592,-6.1\n595,-6.4\n598,-6.3\n602,-6.9\n606,-6.5\n610,-6.3\n614,-6.75\n618,-6.55\n622,-7.05\n626,-6.7\n630,-6.6\n634,-7\n638,-6.8\n642,-7.1\n646,-6.85\n650,-6.95\n655,-7.2\n660,-7.1\n665,-7.3\n672,-7.25\n680,-7.35\n332,-2.05\n335,-2.4\n338,-2.15\n342,-2.6\n345,-2.25\n348,-2.75\n351,-2.35\n354,-2.2\n357,-2.8\n360,-2.4\n363,-2.6\n366,-3.1\n369,-2.55\n372,-2.85\n375,-2.6\n378,-3.2\n381,-2.75\n384,-3\n387,-2.7\n390,-3.3\n393,-2.9\n396,-3.15\n399,-2.95\n402,-3.5\n405,-3.05\n408,-3.3\n411,-3.1\n414,-3.7\n417,-3.2\n420,-3.45\n423,-3.3\n426,-3.9\n429,-3.4\n432,-3.65\n435,-3.45\n438,-4.05\n441,-3.6\n444,-3.85\n447,-3.65\n450,-4.25\n453,-3.75\n456,-4\n459,-3.85\n462,-4.45\n465,-3.95\n468,-4.2\n471,-4.05\n474,-4.6\n477,-4.15\n480,-4.4\n483,-4.25\n486,-4.8\n489,-4.35\n492,-4.6\n495,-4.45\n498,-5\n501,-4.55\n504,-4.8\n507,-4.65\n510,-5.2\n513,-4.8\n516,-5\n519,-4.85\n522,-5.35\n525,-4.95\n528,-5.15\n531,-5.05\n534,-5.5\n537,-5.1\n540,-5.3\n543,-5.2\n546,-5.65\n549,-5.3\n552,-5.45\n555,-5.35\n558,-5.8\n565,-4.6\n572,-4.4\n580,-4.5\n588,-4.7\n596,-4.9\n604,-5\n612,-5.2\n620,-5.4\n628,-5.5\n636,-5.7\n644,-5.9\n652,-6\n660,-6.2\n668,-6.5\n590,-5.1\n608,-5.35\n625,-5.6\n104,-3.1\n106,-2.5\n110,-3.7\n114,-2.9\n116,-4.4\n120,-3.3\n124,-2.8\n128,-4.5\n132,-3.6\n136,-3\n140,-4\n144,-3.3\n146,-4.9\n150,-3.8\n154,-3.1\n158,-4.3\n160,-4\n164,-3.5\n168,-2.9\n172,-4.1\n176,-3.4\n180,-4.05\n184,-3\n188,-3.7\n192,-2.8\n196,-4.4\n200,-4.9\n204,-3.3\n208,-5.25\n212,-3.9\n216,-4.5\n219,-3.6\n222,-4\n226,-4.6\n230,-5.15\n234,-3.5\n238,-4.3\n242,-3.8\n246,-4.8\n250,-3.4\n254,-4.1\n258,-5\n262,-3.7\n266,-4.4\n270,-3.5\n274,-4.9\n278,-4.2\n282,-3.8\n286,-4.6\n290,-5.2\n294,-3.9\n298,-4.4\n302,-3.7\n306,-5\n310,-4.2\n314,-4.7\n318,-3.9\n322,-5.25\n326,-4.5\n330,-4.05\n334,-4.8\n338,-5.3\n342,-4.3\n346,-4.9\n350,-4.4\n354,-5.1\n358,-4.6\n362,-5.3\n366,-4.8\n370,-5\n374,-4.5\n378,-5.5\n382,-4.9\n386,-5.2\n390,-6.55\n394,-5\n398,-5.6\n402,-5.3\n406,-4.8\n410,-5.8\n414,-5.4\n418,-5.1\n422,-6\n426,-5.6\n430,-6.3\n434,-5.7\n438,-5.2\n442,-6.1\n446,-5.85\n450,-6.2\n455,-5.5\n460,-6.1\n465,-5.9\n470,-6.4\n475,-5.6\n480,-6.6\n485,-6.3\n490,-5.95\n495,-6.45\n500,-6.1\n505,-6.55\n510,-6.3\n515,-6.7\n520,-6.5\n528,-6.75\n536,-6.9\n545,-6.6\n552,-7\n560,-6.8\n568,-7.1\n608,-7.3\n450,-6.45\n415,-6.2",
        "format": {"type": "csv", "parse": {"x": "number", "y": "number"}}
      },
      "mark": {"type": "point", "filled": true, "size": 150, "opacity": 1, "color": "#00ff00", "strokeWidth": 0},
      "encoding": {
        "x": {"field": "x", "type": "quantitative", "axis": null},
        "y": {"field": "y", "type": "quantitative", "axis": null}
      }
    },
    {
      "data": {
        "values": "x,y\n302,-.3\n302,-.47\n302,-.64\n302,-.8\n308,-.38\n308,-.56\n308,-.74\n308,-.9\n314,-.3\n314,-.47\n314,-.65\n314,-.83\n314,-.98\n320,-.4\n320,-.58\n320,-.76\n320,-.94\n320,-1.08\n326,-.35\n326,-.52\n326,-.7\n326,-.88\n326,-1.05\n332,-.45\n332,-.62\n332,-.8\n332,-.98\n332,-1.15\n338,-.55\n338,-.72\n338,-.9\n338,-1.08\n338,-1.24\n344,-.5\n344,-.68\n344,-.86\n344,-1.04\n344,-1.22\n350,-.6\n350,-.78\n350,-.96\n350,-1.14\n350,-1.3\n356,-.55\n356,-.72\n356,-.9\n356,-1.08\n356,-1.26\n356,-1.4\n362,-.62\n362,-.8\n362,-.98\n362,-1.16\n362,-1.34\n362,-1.5\n368,-.58\n368,-.75\n368,-.93\n368,-1.11\n368,-1.29\n368,-1.47\n368,-1.58\n374,-.65\n374,-.83\n374,-1.01\n374,-1.19\n374,-1.37\n374,-1.55\n374,-1.66\n380,-.6\n380,-.78\n380,-.96\n380,-1.14\n380,-1.32\n380,-1.5\n380,-1.7\n386,-.68\n386,-.86\n386,-1.04\n386,-1.22\n386,-1.4\n386,-1.58\n386,-1.76\n392,-.62\n392,-.8\n392,-.98\n392,-1.16\n392,-1.34\n392,-1.52\n392,-1.7\n392,-1.84\n398,-.7\n398,-.88\n398,-1.06\n398,-1.24\n398,-1.42\n398,-1.6\n398,-1.78\n398,-1.92\n404,-.65\n404,-.83\n404,-1.01\n404,-1.19\n404,-1.37\n404,-1.55\n404,-1.73\n404,-1.91\n404,-2\n410,-.72\n410,-.9\n410,-1.08\n410,-1.26\n410,-1.44\n410,-1.62\n410,-1.8\n410,-1.98\n410,-2.08\n416,-.68\n416,-.86\n416,-1.04\n416,-1.22\n416,-1.4\n416,-1.58\n416,-1.76\n416,-1.94\n416,-2.12\n422,-.74\n422,-.92\n422,-1.1\n422,-1.28\n422,-1.46\n422,-1.64\n422,-1.82\n422,-2\n422,-2.18\n428,-.7\n428,-.88\n428,-1.06\n428,-1.24\n428,-1.42\n428,-1.6\n428,-1.78\n428,-1.96\n428,-2.14\n428,-2.26\n434,-.76\n434,-.94\n434,-1.12\n434,-1.3\n434,-1.48\n434,-1.66\n434,-1.84\n434,-2.02\n434,-2.2\n434,-2.34\n440,-.72\n440,-.9\n440,-1.08\n440,-1.26\n440,-1.44\n440,-1.62\n440,-1.8\n440,-1.98\n440,-2.16\n440,-2.34\n440,-2.44\n446,-.78\n446,-.96\n446,-1.14\n446,-1.32\n446,-1.5\n446,-1.68\n446,-1.86\n446,-2.04\n446,-2.22\n446,-2.4\n446,-2.52\n452,-.7\n452,-.9\n452,-1.1\n452,-1.3\n452,-1.5\n452,-1.7\n452,-1.9\n452,-2.1\n452,-2.3\n452,-2.5\n452,-2.6\n458,-.8\n458,-1\n458,-1.2\n458,-1.4\n458,-1.6\n458,-1.8\n458,-2\n458,-2.2\n458,-2.4\n458,-2.6\n458,-2.72\n464,-.75\n464,-.97\n464,-1.2\n464,-1.42\n464,-1.65\n464,-1.87\n464,-2.1\n464,-2.32\n464,-2.55\n464,-2.8\n470,-.85\n470,-1.08\n470,-1.3\n470,-1.53\n470,-1.75\n470,-1.98\n470,-2.2\n470,-2.43\n470,-2.65\n470,-2.9\n476,-.6\n476,-.9\n476,-1.2\n476,-1.5\n476,-1.8\n476,-2.1\n476,-2.4\n476,-2.7\n476,-2.95\n484,-.5\n484,-.8\n484,-1.1\n484,-1.4\n484,-1.7\n484,-2\n484,-2.3\n484,-2.6\n484,-2.9\n484,-3.05\n492,-.7\n492,-1\n492,-1.3\n492,-1.6\n492,-1.9\n492,-2.2\n492,-2.5\n492,-2.8\n492,-3.15\n500,-.55\n500,-.85\n500,-1.15\n500,-1.45\n500,-1.75\n500,-2.05\n500,-2.35\n500,-2.65\n500,-2.95\n500,-3.25\n508,-.65\n508,-1\n508,-1.35\n508,-1.7\n508,-2.05\n508,-2.4\n508,-2.75\n508,-3.1\n508,-3.4\n516,-.5\n516,-.85\n516,-1.2\n516,-1.55\n516,-1.9\n516,-2.25\n516,-2.6\n516,-2.95\n516,-3.3\n516,-3.55\n524,-.7\n524,-1.05\n524,-1.4\n524,-1.75\n524,-2.1\n524,-2.45\n524,-2.8\n524,-3.15\n524,-3.55\n532,-.55\n532,-.95\n532,-1.35\n532,-1.75\n532,-2.15\n532,-2.55\n532,-2.95\n532,-3.35\n532,-3.8\n540,-.8\n540,-1.2\n540,-1.6\n540,-2\n540,-2.4\n540,-2.8\n540,-3.2\n540,-3.6\n540,-3.95\n548,-.6\n548,-1\n548,-1.45\n548,-1.9\n548,-2.35\n548,-2.8\n548,-3.25\n548,-3.7\n548,-4.1\n556,-.9\n556,-1.4\n556,-1.9\n556,-2.4\n556,-2.9\n556,-3.4\n556,-3.9\n564,-.7\n564,-1.25\n564,-1.8\n564,-2.35\n564,-2.9\n564,-3.45\n574,-1\n574,-1.6\n574,-2.2\n574,-2.8\n574,-3.4\n584,-.8\n584,-1.5\n584,-2.1\n584,-2.9\n584,-3.6\n594,-1.2\n594,-1.9\n594,-2.6\n594,-3.3\n594,-4\n604,-.9\n604,-1.7\n604,-2.5\n604,-3.1\n614,-1.4\n614,-2.2\n614,-2.9\n614,-3.7\n624,-1.1\n624,-1.9\n624,-2.7\n634,-1.6\n634,-2.4\n634,-3.3\n645,-2\n645,-2.9\n655,-2.5\n655,-3.2\n165,.05\n170,-.1\n174,.12\n178,-.02\n182,.15\n186,-.12\n190,.03\n194,-.08\n198,.18\n202,0\n205,-.2\n208,.25\n211,.1\n214,-.1\n217,.35\n220,.15\n223,-.22\n226,.4\n229,.2\n232,-.15\n235,.45\n238,.25\n241,-.3\n244,.5\n247,.18\n250,-.25\n253,.55\n256,.3\n259,-.35\n262,.6\n265,.25\n268,-.3\n271,.65\n274,.35\n277,-.4\n280,.7\n283,.3\n286,-.45\n289,.75\n292,.4\n295,-.2\n298,.8\n210,-.35\n222,.5\n234,-.4\n246,.65\n258,-.5\n270,.85\n282,-.6\n294,.95\n215,.6\n240,.8\n265,.9\n290,1.1\n205,.4\n228,-.45\n252,-.55\n276,-.65\n300,-.15\n120,-.35\n135,-.25\n150,-.4\n140,.3\n155,-.15\n125,.25\n558,.05\n562,-.08\n565,.15\n568,0\n571,-.12\n574,.1\n577,-.02\n580,.2\n583,.05\n586,-.1\n589,.12\n592,0\n595,.22\n598,-.05\n601,.08\n604,-.15\n607,.15\n610,.02\n614,-.08\n618,.1\n622,0\n626,.05\n632,-.05\n565,.35\n575,-.3\n585,.4\n595,-.35\n605,.45\n615,-.4\n570,.55\n590,-.5\n303,.5\n307,.9\n311,.65\n315,1.2\n319,.55\n323,.85\n327,1.4\n331,.6\n335,1\n339,.7\n343,1.25\n347,.55\n351,.95\n355,1.5\n359,.65\n363,1.1\n367,.75\n371,1.35\n375,.6\n379,.9\n383,1.2\n387,.55\n391,1\n395,.7\n399,1.45\n403,.6\n407,.95\n411,1.3\n415,.65\n419,1.05\n423,.55\n427,.85\n431,1.4\n435,.7\n439,1.1\n443,.55\n447,.9\n451,1.25\n455,.6\n459,1\n463,.5\n467,.8\n471,1.2\n475,.55\n479,.95\n483,.45\n487,.75\n491,1.1\n495,.5\n499,.85\n503,.4\n507,.7\n511,1.05\n515,.45\n519,.8\n523,.35\n527,.65\n531,1\n535,.4\n539,.7\n543,.3\n547,.6\n551,.95\n555,.35\n559,.5\n306,1.3\n312,1.05\n318,1.65\n325,1.25\n333,.85\n341,1.55\n348,1.2\n356,.9\n362,1.75\n370,1.05\n378,1.5\n386,.85\n393,1.25\n401,1.85\n409,.75\n416,1.45\n424,1.15\n432,.9\n440,1.6\n448,1.35\n456,.85\n464,1.45\n472,.75\n480,1.3\n488,1.9\n496,1.25\n345,1.8\n365,2\n385,1.75\n405,2.1\n425,1.85\n445,2.2\n465,1.9\n485,2.3\n505,2\n360,3.55\n365,3.15\n372,2.95\n350,3.3\n480,2.9\n520,2.8\n480,1.55\n500,1.7\n525,1.5\n560,-.6\n565,-1.4\n572,-2.2\n578,-.9\n583,-1.8\n590,-2.6\n596,-1.2\n600,-3.3\n606,-2\n612,-.8\n618,-2.9\n625,-1.5\n632,-3.7\n640,-2.3\n647,-4.1\n655,-2.8\n662,-3.5\n670,-1.9\n576,-3.4\n588,-4\n604,-4.5\n620,-4.8\n636,-5.1\n650,-5.6\n662,-6.2\n658,-7.2\n598,-5.8\n612,-5.5\n585,-.4\n602,-1\n628,-.5\n660,-1.3\n672,-2.8\n610,1.6\n580,1.2\n600,.6\n630,1.4\n640,.9\n565,1.8\n590,2.2\n105,-.4\n112,.45\n128,-.5\n137,-.45\n145,.55\n152,-.6\n160,-.55\n168,-.5\n175,-.65\n182,-.55\n190,-.75\n200,-.7\n160,1.8\n150,-1.2\n185,-1.8\n210,-1.1\n230,-1.6\n255,-1.4\n280,-1.9\n300,-2.2\n320,-2.5\n345,-2.7\n370,-3\n395,-3.2\n420,-3.5\n445,-3.8\n470,-4.2\n495,-4.6\n520,-4.9\n540,-5.2\n560,-5.5\n580,-5.8\n600,-6\n618,-6.3\n636,-6.2\n240,-2\n265,-.9\n290,-1.2\n310,-1.7\n335,-2\n360,-2.35\n385,-2.65\n410,-3\n435,-3.3\n460,-3.6\n485,-3.95\n510,-4.3\n530,-4.6\n550,-4.85",
        "format": {"type": "csv", "parse": {"x": "number", "y": "number"}}
      },
      "mark": {"type": "point", "filled": true, "size": 150, "opacity": 1, "color": "#ffff00", "strokeWidth": 0},
      "encoding": {
        "x": {"field": "x", "type": "quantitative", "axis": null},
        "y": {"field": "y", "type": "quantitative", "axis": null}
      }
    },
    {
      "data": {
        "values": "x,y\n305,.24\n305,.12\n305,0\n305,-.12\n305,-.24\n309,.3\n309,.18\n309,.06\n309,-.06\n309,-.18\n309,-.3\n314,.24\n314,.12\n314,0\n314,-.12\n314,-.24\n314,-.36\n318,.3\n318,.18\n318,.06\n318,-.06\n318,-.18\n318,-.3\n323,.36\n323,.24\n323,.12\n323,0\n323,-.12\n323,-.24\n323,-.36\n327,.42\n327,.3\n327,.18\n327,.06\n327,-.06\n327,-.18\n327,-.3\n327,-.42\n332,.48\n332,.36\n332,.24\n332,.12\n332,0\n332,-.12\n332,-.24\n332,-.36\n336,.42\n336,.3\n336,.18\n336,.06\n336,-.06\n336,-.18\n336,-.3\n336,-.42\n341,.48\n341,.36\n341,.24\n341,.12\n341,0\n341,-.12\n341,-.24\n341,-.36\n341,-.48\n345,.42\n345,.3\n345,.18\n345,.06\n345,-.06\n345,-.18\n345,-.3\n345,-.42\n350,.48\n350,.36\n350,.24\n350,.12\n350,0\n350,-.12\n350,-.24\n350,-.36\n350,-.48\n354,.54\n354,.42\n354,.3\n354,.18\n354,.06\n354,-.06\n354,-.18\n354,-.3\n354,-.42\n359,.48\n359,.36\n359,.24\n359,.12\n359,0\n359,-.12\n359,-.24\n359,-.36\n359,-.48\n363,.42\n363,.3\n363,.18\n363,.06\n363,-.06\n363,-.18\n363,-.3\n363,-.42\n363,-.54\n368,.48\n368,.36\n368,.24\n368,.12\n368,0\n368,-.12\n368,-.24\n368,-.36\n368,-.48\n372,.54\n372,.42\n372,.3\n372,.18\n372,.06\n372,-.06\n372,-.18\n372,-.3\n372,-.42\n377,.48\n377,.36\n377,.24\n377,.12\n377,0\n377,-.12\n377,-.24\n377,-.36\n377,-.48\n381,.42\n381,.3\n381,.18\n381,.06\n381,-.06\n381,-.18\n381,-.3\n381,-.42\n381,-.54\n386,.48\n386,.36\n386,.24\n386,.12\n386,0\n386,-.12\n386,-.24\n386,-.36\n386,-.48\n390,.54\n390,.42\n390,.3\n390,.18\n390,.06\n390,-.06\n390,-.18\n390,-.3\n390,-.42\n395,.48\n395,.36\n395,.24\n395,.12\n395,0\n395,-.12\n395,-.24\n395,-.36\n395,-.48\n399,.42\n399,.3\n399,.18\n399,.06\n399,-.06\n399,-.18\n399,-.3\n399,-.42\n399,-.54\n404,.48\n404,.36\n404,.24\n404,.12\n404,0\n404,-.12\n404,-.24\n404,-.36\n404,-.48\n408,.42\n408,.3\n408,.18\n408,.06\n408,-.06\n408,-.18\n408,-.3\n408,-.42\n413,.48\n413,.36\n413,.24\n413,.12\n413,0\n413,-.12\n413,-.24\n413,-.36\n413,-.48\n413,-.6\n417,.42\n417,.3\n417,.18\n417,.06\n417,-.06\n417,-.18\n417,-.3\n417,-.42\n417,-.54\n422,.48\n422,.36\n422,.24\n422,.12\n422,0\n422,-.12\n422,-.24\n422,-.36\n422,-.48\n426,.42\n426,.3\n426,.18\n426,.06\n426,-.06\n426,-.18\n426,-.3\n426,-.42\n426,-.54\n431,.36\n431,.24\n431,.12\n431,0\n431,-.12\n431,-.24\n431,-.36\n431,-.48\n435,.42\n435,.3\n435,.18\n435,.06\n435,-.06\n435,-.18\n435,-.3\n435,-.42\n440,.36\n440,.24\n440,.12\n440,0\n440,-.12\n440,-.24\n440,-.36\n440,-.48\n444,.42\n444,.3\n444,.18\n444,.06\n444,-.06\n444,-.18\n444,-.3\n444,-.42\n444,-.54\n449,.36\n449,.24\n449,.12\n449,0\n449,-.12\n449,-.24\n449,-.36\n449,-.48\n453,.42\n453,.3\n453,.18\n453,.06\n453,-.06\n453,-.18\n453,-.3\n453,-.42\n458,.36\n458,.24\n458,.12\n458,0\n458,-.12\n458,-.24\n458,-.36\n458,-.48\n462,.3\n462,.18\n462,.06\n462,-.06\n462,-.18\n462,-.3\n462,-.42\n467,.36\n467,.24\n467,.12\n467,0\n467,-.12\n467,-.24\n467,-.36\n471,.3\n471,.18\n471,.06\n471,-.06\n471,-.18\n471,-.3\n471,-.42\n476,.36\n476,.24\n476,.12\n476,0\n476,-.12\n476,-.24\n476,-.36\n480,.3\n480,.18\n480,.06\n480,-.06\n480,-.18\n480,-.3\n485,.24\n485,.12\n485,0\n485,-.12\n485,-.24\n485,-.36\n489,.3\n489,.18\n489,.06\n489,-.06\n489,-.18\n489,-.3\n494,.24\n494,.12\n494,0\n494,-.12\n494,-.24\n498,.3\n498,.18\n498,.06\n498,-.06\n498,-.18\n498,-.3\n503,.24\n503,.12\n503,0\n503,-.12\n503,-.24\n507,.18\n507,.06\n507,-.06\n507,-.18\n507,-.3\n512,.24\n512,.12\n512,0\n512,-.12\n512,-.24\n516,.18\n516,.06\n516,-.06\n516,-.18\n521,.24\n521,.12\n521,0\n521,-.12\n521,-.24\n525,.18\n525,.06\n525,-.06\n525,-.18\n530,.12\n530,0\n530,-.12\n530,-.24\n534,.18\n534,.06\n534,-.06\n534,-.18\n539,.12\n539,0\n539,-.12\n543,.18\n543,.06\n543,-.06\n548,.12\n548,0\n548,-.12\n552,.06\n552,-.06\n557,.12\n557,0\n557,-.12\n561,.06\n561,-.06\n566,.12\n566,0\n570,.06\n570,-.06\n575,0\n580,.04\n212,.02\n216,-.02\n216,.06\n221,0\n225,.05\n225,-.05\n230,0\n230,.1\n234,-.04\n234,.06\n239,.02\n239,-.1\n243,.07\n243,-.04\n248,0\n248,.12\n248,-.1\n252,.05\n252,-.06\n257,.1\n257,-.02\n257,-.12\n261,.04\n261,-.08\n261,.15\n266,0\n266,.12\n266,-.12\n270,.06\n270,-.06\n270,.18\n275,-.02\n275,.1\n275,-.14\n279,.04\n279,.16\n279,-.08\n284,0\n284,.12\n284,-.12\n284,.22\n288,.06\n288,-.06\n288,.18\n288,-.18\n293,0\n293,.12\n293,-.12\n293,.24\n297,.06\n297,-.06\n297,.18\n297,-.18\n301,0\n301,.12\n301,-.12\n301,.24\n301,-.24\n300,.4\n305,.6\n310,.45\n313,.85\n317,.55\n321,1.1\n324,.7\n328,.95\n331,.6\n335,1.3\n338,.75\n342,.62\n346,1\n349,.72\n353,1.45\n357,.65\n360,.88\n364,1.15\n367,.7\n371,.6\n374,1\n378,.75\n381,1.3\n385,.65\n389,.9\n392,1.6\n396,.72\n400,1.1\n403,.62\n407,.85\n410,1.35\n414,.7\n418,.95\n421,.62\n425,1.2\n429,.75\n432,.6\n436,1\n440,.7\n443,1.5\n447,.62\n451,.85\n454,1.1\n458,.58\n462,.8\n466,1.3\n469,.55\n473,.75\n477,1\n481,.5\n485,.7\n489,1.2\n493,.48\n497,.62\n501,.9\n505,.45\n509,.6\n513,1.05\n517,.4\n521,.55\n525,.8\n529,.35\n533,.5\n537,.3\n541,.45\n545,.28\n549,.6\n553,.25\n557,.35\n562,.2\n567,.15\n303,.75\n312,1.2\n326,.55\n334,.9\n344,.75\n352,1.2\n362,.6\n369,1.05\n383,.9\n398,.8\n412,1.05\n428,.95\n438,.85\n452,.7\n464,.65\n476,.8\n490,.65\n350,1.75\n375,1.85\n400,1.95\n420,1.7\n445,1.9\n470,1.6\n405,2.4\n380,2.2\n430,2.6\n360,2.75\n330,1.8\n310,1.5\n288,.55\n275,.35\n262,.45\n248,.3\n235,.5\n220,.25\n205,.15\n240,3\n150,2.85\n212,2.58\n104,1.7\n300,1.85\n318,2.1\n470,2.15\n500,1.35\n520,1.2\n548,1\n340,-.65\n340,-.95\n340,-1.3\n345,-.75\n345,-1.1\n345,-1.5\n350,-.62\n350,-.9\n350,-1.2\n350,-1.6\n355,-.7\n355,-1\n355,-1.35\n360,-.65\n360,-.85\n360,-1.1\n360,-1.45\n360,-1.8\n365,-.75\n365,-1\n365,-1.25\n365,-1.6\n370,-.62\n370,-.88\n370,-1.15\n370,-1.4\n370,-1.75\n370,-2.1\n375,-.7\n375,-.95\n375,-1.22\n375,-1.5\n375,-1.85\n380,-.65\n380,-.85\n380,-1.1\n380,-1.35\n380,-1.62\n380,-1.95\n380,-2.3\n385,-.75\n385,-1\n385,-1.28\n385,-1.55\n385,-1.8\n385,-2.15\n390,-.62\n390,-.88\n390,-1.12\n390,-1.4\n390,-1.68\n390,-2\n390,-2.4\n395,-.7\n395,-.95\n395,-1.22\n395,-1.5\n395,-1.78\n395,-2.1\n400,-.65\n400,-.85\n400,-1.08\n400,-1.32\n400,-1.58\n400,-1.85\n400,-2.2\n400,-2.55\n405,-.75\n405,-1\n405,-1.25\n405,-1.5\n405,-1.75\n405,-2.05\n405,-2.35\n410,-.62\n410,-.88\n410,-1.15\n410,-1.4\n410,-1.65\n410,-1.95\n410,-2.25\n415,-.7\n415,-.95\n415,-1.2\n415,-1.48\n415,-1.72\n415,-2\n415,-2.4\n420,-.65\n420,-.9\n420,-1.12\n420,-1.38\n420,-1.62\n420,-1.9\n420,-2.15\n420,-2.5\n425,-.75\n425,-1\n425,-1.28\n425,-1.55\n425,-1.82\n425,-2.1\n430,-.62\n430,-.88\n430,-1.15\n430,-1.42\n430,-1.7\n430,-2\n430,-2.3\n435,-.7\n435,-.95\n435,-1.2\n435,-1.48\n435,-1.75\n435,-2.05\n440,-.65\n440,-.9\n440,-1.15\n440,-1.42\n440,-1.7\n440,-1.95\n440,-2.35\n445,-.72\n445,-1\n445,-1.28\n445,-1.55\n445,-1.85\n445,-2.2\n450,-.6\n450,-.88\n450,-1.15\n450,-1.45\n450,-1.75\n450,-2.1\n455,-.7\n455,-.98\n455,-1.3\n455,-1.6\n455,-1.95\n460,-.62\n460,-.9\n460,-1.2\n460,-1.52\n460,-1.88\n465,-.55\n465,-.8\n465,-1.1\n465,-1.45\n465,-1.8\n470,-.65\n470,-.95\n470,-1.3\n470,-1.7\n475,-.55\n475,-.85\n475,-1.2\n475,-1.6\n480,-.5\n480,-.78\n480,-1.1\n480,-1.5\n480,-1.95\n485,-.6\n485,-.95\n485,-1.35\n485,-1.8\n490,-.45\n490,-.75\n490,-1.1\n490,-1.55\n495,-.55\n495,-.9\n495,-1.3\n495,-1.75\n500,-.42\n500,-.7\n500,-1.05\n500,-1.45\n505,-.5\n505,-.85\n505,-1.25\n505,-1.7\n510,-.38\n510,-.65\n510,-1\n510,-1.4\n515,-.48\n515,-.8\n515,-1.2\n515,-1.65\n520,-.35\n520,-.6\n520,-.95\n520,-1.35\n525,-.45\n525,-.75\n525,-1.15\n530,-.32\n530,-.58\n530,-.9\n530,-1.3\n535,-.42\n535,-.7\n535,-1.05\n540,-.3\n540,-.55\n540,-.85\n545,-.4\n545,-.65\n545,-1\n550,-.28\n550,-.5\n550,-.8\n555,-.35\n555,-.6\n560,-.25\n560,-.45\n306,-.45\n310,-.7\n314,-.55\n318,-.9\n322,-.6\n326,-1.1\n330,-.75\n334,-.55\n308,-1\n316,-1.2\n324,-.85\n332,-1.3\n336,-1\n365,-2.6\n385,-2.75\n410,-2.7\n435,-2.6\n455,-2.4\n470,-2.2\n490,-2.1\n505,-2.3\n520,-1.9\n535,-1.6\n550,-1.3\n565,-.8\n580,-1.5\n595,-2.3\n610,-2.9\n600,-1.1\n575,-2.5\n560,-3.2\n545,-2.6\n530,-3\n515,-3.4\n500,-3.1\n485,-2.8\n470,-3.6\n455,-3.1\n440,-3.8\n425,-3.4\n410,-4\n395,-3.5\n380,-3.2\n365,-3\n350,-2.9\n390,-4.6\n415,-4.8\n440,-4.3\n458,-4.9\n470,-5\n493,-4.6\n510,-4.95\n525,-5.5\n538,-5.6\n555,-3.8\n570,-4.2\n590,-3.5\n605,-4\n620,-3.2\n635,-4.5\n650,-3.9\n577,-6.5\n608,-6.9\n620,-1.8\n640,-2.7\n655,-1.5\n595,-.6\n610,-.3\n625,.8\n590,1\n570,1.4\n600,1.8\n260,-1.65\n285,-2\n275,-1.5\n300,-1.3\n320,-1.5\n340,-1.8\n355,-2.1\n226,2.58\n150,-1.95\n330,-3.3\n345,-3.6",
        "format": {"type": "csv", "parse": {"x": "number", "y": "number"}}
      },
      "mark": {"type": "point", "filled": true, "size": 150, "opacity": 1, "color": "#ff0000", "strokeWidth": 0},
      "encoding": {
        "x": {"field": "x", "type": "quantitative", "axis": null},
        "y": {"field": "y", "type": "quantitative", "axis": null}
      }
    },
    {
      "data": {"values": [{"x": 100, "y": 0}]},
      "mark": {"type": "point", "opacity": 0},
      "encoding": {
        "x": {
          "field": "x",
          "type": "quantitative",
          "axis": {
            "orient": "top",
            "values": [100, 200, 300, 400, 500, 600, 700, 800],
            "labels": false,
            "grid": false,
            "domainColor": "#262626",
            "domainWidth": 3.5,
            "tickColor": "#262626",
            "tickWidth": 3,
            "tickSize": -14,
            "title": "A",
            "titleFont": "Liberation Sans",
            "titleFontSize": 46,
            "titleFontWeight": "normal",
            "titleColor": "#262626",
            "titleAlign": "left",
            "titleBaseline": "alphabetic",
            "titleAngle": 0,
            "titleX": 654,
            "titleY": 1316
          }
        },
        "y": {
          "field": "y",
          "type": "quantitative",
          "axis": {
            "orient": "right",
            "values": [-8, -6, -4, -2, 0, 2, 4, 6],
            "labels": false,
            "grid": false,
            "domainColor": "#262626",
            "domainWidth": 3.5,
            "tickColor": "#262626",
            "tickWidth": 3,
            "tickSize": -14,
            "title": "5",
            "titleFont": "Liberation Sans",
            "titleFontSize": 38,
            "titleFontWeight": "normal",
            "titleColor": "#262626",
            "titleAngle": 270,
            "titleAlign": "center",
            "titleBaseline": "alphabetic",
            "titleX": -1578,
            "titleY": 552
          }
        }
      }
    }
  ],
  "resolve": {"axis": {"x": "independent", "y": "independent"}}
}
